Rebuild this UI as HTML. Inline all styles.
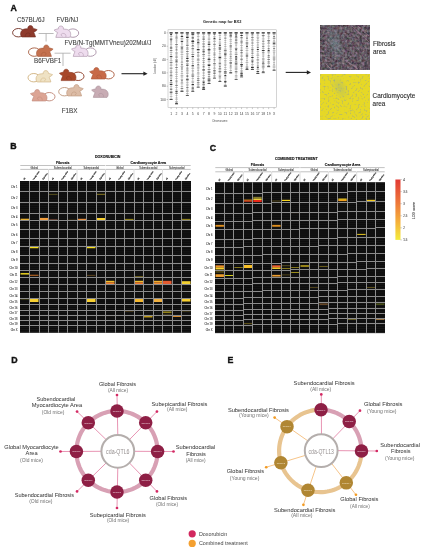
<!DOCTYPE html><html><head><meta charset="utf-8"><style>html,body{margin:0;padding:0;background:#fff;overflow:hidden;}svg{display:block;will-change:transform;}text{font-family:"Liberation Sans",sans-serif;}</style></head><body>
<svg width="427" height="550" viewBox="0 0 427 550">
<defs>
<filter id="fibf" filterUnits="userSpaceOnUse" x="320.9" y="25.3" width="48.2" height="44.2" color-interpolation-filters="sRGB"><feTurbulence type="fractalNoise" baseFrequency="0.4" numOctaves="2" seed="3" result="n"/><feColorMatrix in="n" type="matrix" values="0.5 0.15 0 0 0.065  0.5 -0.1 0 0 0.145  0.5 0 0.15 0 0.06  0 0 0 0 1"/><feGaussianBlur stdDeviation="0.35"/></filter>
<filter id="cardf" filterUnits="userSpaceOnUse" x="320.9" y="74.9" width="48.2" height="44.6" color-interpolation-filters="sRGB"><feFlood flood-color="#e6d826" result="base"/><feTurbulence type="fractalNoise" baseFrequency="0.5" numOctaves="2" seed="9" result="n"/><feColorMatrix in="n" type="matrix" values="0 0 0 0 0.58  0 0 0 0 0.64  0 0 0 0 0.6  2.4 0 0 0 -1.28" result="spk"/><feMerge result="m"><feMergeNode in="base"/><feMergeNode in="spk"/></feMerge><feGaussianBlur in="m" stdDeviation="0.35"/></filter>
<radialGradient id="tealg1" gradientUnits="userSpaceOnUse" cx="0" cy="0" r="1" gradientTransform="translate(335,44) rotate(75) scale(20,9)"><stop offset="0" stop-color="#80a4aa" stop-opacity="0.4"/><stop offset="1" stop-color="#80a4aa" stop-opacity="0"/></radialGradient>
<radialGradient id="tealg2" gradientUnits="userSpaceOnUse" cx="0" cy="0" r="1" gradientTransform="translate(340,88) rotate(60) scale(14,8)"><stop offset="0" stop-color="#88a8a0" stop-opacity="0.35"/><stop offset="1" stop-color="#88a8a0" stop-opacity="0"/></radialGradient>
<linearGradient id="lodg" x1="0" y1="1" x2="0" y2="0"><stop offset="0" stop-color="#f4ec3c"/><stop offset="0.3" stop-color="#f5b03a"/><stop offset="0.6" stop-color="#ee7a3a"/><stop offset="1" stop-color="#e23a34"/></linearGradient>
</defs>
<rect width="427" height="550" fill="#fff"/>
<text x="10.50" y="10.50" font-size="8.8" fill="#111" text-anchor="start" font-weight="bold"  stroke="#111" stroke-width="0.35">A</text>
<text x="10.30" y="149.40" font-size="8.8" fill="#111" text-anchor="start" font-weight="bold"  stroke="#111" stroke-width="0.35">B</text>
<text x="209.70" y="151.30" font-size="8.8" fill="#111" text-anchor="start" font-weight="bold"  stroke="#111" stroke-width="0.35">C</text>
<text x="11.20" y="362.60" font-size="8.8" fill="#111" text-anchor="start" font-weight="bold"  stroke="#111" stroke-width="0.35">D</text>
<text x="227.40" y="362.70" font-size="8.8" fill="#111" text-anchor="start" font-weight="bold"  stroke="#111" stroke-width="0.35">E</text>
<text x="16.90" y="22.40" font-size="6.3" fill="#444" text-anchor="start" font-weight="normal"  stroke="#444" stroke-width="0.1">C57BL/6J</text>
<text x="56.40" y="22.40" font-size="6.3" fill="#444" text-anchor="start" font-weight="normal"  stroke="#444" stroke-width="0.1">FVB/NJ</text>
<text x="64.50" y="44.60" font-size="6.3" fill="#444" text-anchor="start" font-weight="normal"  stroke="#444" stroke-width="0.1">FVB/N-Tg(MMTVneu)202Mul/J</text>
<text x="34.00" y="62.90" font-size="6.3" fill="#444" text-anchor="start" font-weight="normal"  stroke="#444" stroke-width="0.1">B6FVBF1</text>
<text x="61.70" y="112.70" font-size="6.3" fill="#444" text-anchor="start" font-weight="normal"  stroke="#444" stroke-width="0.1">F1BX</text>
<path d="M38.6,33.5 H53.6 M46.1,33.5 V41.5" stroke="#aaa" stroke-width="0.8" fill="none"/>
<path d="M54.6,53.2 H70.6 M63,53.2 V66" stroke="#aaa" stroke-width="0.8" fill="none"/>
<g transform="translate(12.20,25.40) scale(1.0)">
<ellipse cx="6.2" cy="7.3" rx="5.8" ry="4.2" fill="none" stroke="#6e2c20" stroke-width="0.9"/>
<path d="M9.6,11.6 C7.6,9.8 7.9,4.6 12.2,3.6 C13.6,3.3 14.8,3.4 15.7,3.3 C15.3,1.5 16.6,0.1 18.3,0.2 C20,0.3 21,1.6 20.7,3.0 C22.2,3.3 23.8,3.6 25,4.3 C24,5.4 22.8,6.2 21.5,6.8 C22.1,8.2 23,9.8 23.3,11.6 Z" fill="#8e3a2c" stroke="#6e2c20" stroke-width="0.6" stroke-linejoin="round"/>
<path d="M13.2,11.3 C12.6,8.9 14.4,7.2 16.6,7.6 C18.4,8 18.5,10 16.6,10.5" fill="none" stroke="#6e2c20" stroke-width="0.6" opacity="0.8"/>
</g>
<g transform="translate(79.10,25.80) scale(-1.0,1.0)">
<ellipse cx="6.2" cy="7.3" rx="5.8" ry="4.2" fill="none" stroke="#a890a6" stroke-width="0.9"/>
<path d="M9.6,11.6 C7.6,9.8 7.9,4.6 12.2,3.6 C13.6,3.3 14.8,3.4 15.7,3.3 C15.3,1.5 16.6,0.1 18.3,0.2 C20,0.3 21,1.6 20.7,3.0 C22.2,3.3 23.8,3.6 25,4.3 C24,5.4 22.8,6.2 21.5,6.8 C22.1,8.2 23,9.8 23.3,11.6 Z" fill="#eedcee" stroke="#a890a6" stroke-width="0.6" stroke-linejoin="round"/>
<path d="M13.2,11.3 C12.6,8.9 14.4,7.2 16.6,7.6 C18.4,8 18.5,10 16.6,10.5" fill="none" stroke="#a890a6" stroke-width="0.6" opacity="0.8"/>
</g>
<g transform="translate(28.10,44.80) scale(1.0)">
<ellipse cx="6.2" cy="7.3" rx="5.8" ry="4.2" fill="none" stroke="#a45a3c" stroke-width="0.9"/>
<path d="M9.6,11.6 C7.6,9.8 7.9,4.6 12.2,3.6 C13.6,3.3 14.8,3.4 15.7,3.3 C15.3,1.5 16.6,0.1 18.3,0.2 C20,0.3 21,1.6 20.7,3.0 C22.2,3.3 23.8,3.6 25,4.3 C24,5.4 22.8,6.2 21.5,6.8 C22.1,8.2 23,9.8 23.3,11.6 Z" fill="#c4714f" stroke="#a45a3c" stroke-width="0.6" stroke-linejoin="round"/>
<path d="M13.2,11.3 C12.6,8.9 14.4,7.2 16.6,7.6 C18.4,8 18.5,10 16.6,10.5" fill="none" stroke="#a45a3c" stroke-width="0.6" opacity="0.8"/>
</g>
<g transform="translate(96.50,44.80) scale(-1.0,1.0)">
<ellipse cx="6.2" cy="7.3" rx="5.8" ry="4.2" fill="none" stroke="#a890a6" stroke-width="0.9"/>
<path d="M9.6,11.6 C7.6,9.8 7.9,4.6 12.2,3.6 C13.6,3.3 14.8,3.4 15.7,3.3 C15.3,1.5 16.6,0.1 18.3,0.2 C20,0.3 21,1.6 20.7,3.0 C22.2,3.3 23.8,3.6 25,4.3 C24,5.4 22.8,6.2 21.5,6.8 C22.1,8.2 23,9.8 23.3,11.6 Z" fill="#eedcee" stroke="#a890a6" stroke-width="0.6" stroke-linejoin="round"/>
<path d="M13.2,11.3 C12.6,8.9 14.4,7.2 16.6,7.6 C18.4,8 18.5,10 16.6,10.5" fill="none" stroke="#a890a6" stroke-width="0.6" opacity="0.8"/>
</g>
<g transform="translate(27.60,70.40) scale(1.0)">
<ellipse cx="6.2" cy="7.3" rx="5.8" ry="4.2" fill="none" stroke="#cfb07c" stroke-width="0.9"/>
<path d="M9.6,11.6 C7.6,9.8 7.9,4.6 12.2,3.6 C13.6,3.3 14.8,3.4 15.7,3.3 C15.3,1.5 16.6,0.1 18.3,0.2 C20,0.3 21,1.6 20.7,3.0 C22.2,3.3 23.8,3.6 25,4.3 C24,5.4 22.8,6.2 21.5,6.8 C22.1,8.2 23,9.8 23.3,11.6 Z" fill="#efe2c4" stroke="#cfb07c" stroke-width="0.6" stroke-linejoin="round"/>
<path d="M13.2,11.3 C12.6,8.9 14.4,7.2 16.6,7.6 C18.4,8 18.5,10 16.6,10.5" fill="none" stroke="#cfb07c" stroke-width="0.6" opacity="0.8"/>
</g>
<g transform="translate(84.40,69.00) scale(-1.0,1.0)">
<ellipse cx="6.2" cy="7.3" rx="5.8" ry="4.2" fill="none" stroke="#8a3820" stroke-width="0.9"/>
<path d="M9.6,11.6 C7.6,9.8 7.9,4.6 12.2,3.6 C13.6,3.3 14.8,3.4 15.7,3.3 C15.3,1.5 16.6,0.1 18.3,0.2 C20,0.3 21,1.6 20.7,3.0 C22.2,3.3 23.8,3.6 25,4.3 C24,5.4 22.8,6.2 21.5,6.8 C22.1,8.2 23,9.8 23.3,11.6 Z" fill="#a8482a" stroke="#8a3820" stroke-width="0.6" stroke-linejoin="round"/>
<path d="M13.2,11.3 C12.6,8.9 14.4,7.2 16.6,7.6 C18.4,8 18.5,10 16.6,10.5" fill="none" stroke="#8a3820" stroke-width="0.6" opacity="0.8"/>
</g>
<g transform="translate(114.60,67.40) scale(-1.0,1.0)">
<ellipse cx="6.2" cy="7.3" rx="5.8" ry="4.2" fill="none" stroke="#a85638" stroke-width="0.9"/>
<path d="M9.6,11.6 C7.6,9.8 7.9,4.6 12.2,3.6 C13.6,3.3 14.8,3.4 15.7,3.3 C15.3,1.5 16.6,0.1 18.3,0.2 C20,0.3 21,1.6 20.7,3.0 C22.2,3.3 23.8,3.6 25,4.3 C24,5.4 22.8,6.2 21.5,6.8 C22.1,8.2 23,9.8 23.3,11.6 Z" fill="#c86a48" stroke="#a85638" stroke-width="0.6" stroke-linejoin="round"/>
<path d="M13.2,11.3 C12.6,8.9 14.4,7.2 16.6,7.6 C18.4,8 18.5,10 16.6,10.5" fill="none" stroke="#a85638" stroke-width="0.6" opacity="0.8"/>
</g>
<g transform="translate(55.40,89.40) scale(-1.0,1.0)">
<ellipse cx="6.2" cy="7.3" rx="5.8" ry="4.2" fill="none" stroke="#c08878" stroke-width="0.9"/>
<path d="M9.6,11.6 C7.6,9.8 7.9,4.6 12.2,3.6 C13.6,3.3 14.8,3.4 15.7,3.3 C15.3,1.5 16.6,0.1 18.3,0.2 C20,0.3 21,1.6 20.7,3.0 C22.2,3.3 23.8,3.6 25,4.3 C24,5.4 22.8,6.2 21.5,6.8 C22.1,8.2 23,9.8 23.3,11.6 Z" fill="#dca494" stroke="#c08878" stroke-width="0.6" stroke-linejoin="round"/>
<path d="M13.2,11.3 C12.6,8.9 14.4,7.2 16.6,7.6 C18.4,8 18.5,10 16.6,10.5" fill="none" stroke="#c08878" stroke-width="0.6" opacity="0.8"/>
</g>
<g transform="translate(58.30,84.40) scale(1.0)">
<ellipse cx="6.2" cy="7.3" rx="5.8" ry="4.2" fill="none" stroke="#bc9478" stroke-width="0.9"/>
<path d="M9.6,11.6 C7.6,9.8 7.9,4.6 12.2,3.6 C13.6,3.3 14.8,3.4 15.7,3.3 C15.3,1.5 16.6,0.1 18.3,0.2 C20,0.3 21,1.6 20.7,3.0 C22.2,3.3 23.8,3.6 25,4.3 C24,5.4 22.8,6.2 21.5,6.8 C22.1,8.2 23,9.8 23.3,11.6 Z" fill="#dcbca6" stroke="#bc9478" stroke-width="0.6" stroke-linejoin="round"/>
<path d="M13.2,11.3 C12.6,8.9 14.4,7.2 16.6,7.6 C18.4,8 18.5,10 16.6,10.5" fill="none" stroke="#bc9478" stroke-width="0.6" opacity="0.8"/>
</g>
<g transform="translate(116.60,85.80) scale(-1.0,1.0)">
<path d="M9.6,11.6 C7.6,9.8 7.9,4.6 12.2,3.6 C13.6,3.3 14.8,3.4 15.7,3.3 C15.3,1.5 16.6,0.1 18.3,0.2 C20,0.3 21,1.6 20.7,3.0 C22.2,3.3 23.8,3.6 25,4.3 C24,5.4 22.8,6.2 21.5,6.8 C22.1,8.2 23,9.8 23.3,11.6 Z" fill="#c8acb4" stroke="#a88e98" stroke-width="0.6" stroke-linejoin="round"/>
<path d="M13.2,11.3 C12.6,8.9 14.4,7.2 16.6,7.6 C18.4,8 18.5,10 16.6,10.5" fill="none" stroke="#a88e98" stroke-width="0.6" opacity="0.8"/>
</g>
<path d="M121.5,73.7 H144.2" stroke="#222" stroke-width="1.1"/>
<path d="M143.4,71.6 L147.6,73.7 L143.4,75.8 Z" fill="#222"/>
<path d="M285.7,72.4 H307.6" stroke="#222" stroke-width="1.1"/>
<path d="M306.8,70.3 L311,72.4 L306.8,74.5 Z" fill="#222"/>
<rect x="168.0" y="29.8" width="108.39999999999998" height="77.8" fill="none" stroke="#aaa" stroke-width="0.5"/>
<text x="222.20" y="23.40" font-size="3.9" fill="#222" text-anchor="middle" font-weight="bold" >Genetic map for BX2</text>
<path d="M166.6,32.90 H168.0" stroke="#777" stroke-width="0.4"/>
<text x="165.80" y="34.10" font-size="3.4" fill="#444" text-anchor="end" font-weight="normal" >0</text>
<path d="M166.6,46.22 H168.0" stroke="#777" stroke-width="0.4"/>
<text x="165.80" y="47.42" font-size="3.4" fill="#444" text-anchor="end" font-weight="normal" >20</text>
<path d="M166.6,59.54 H168.0" stroke="#777" stroke-width="0.4"/>
<text x="165.80" y="60.74" font-size="3.4" fill="#444" text-anchor="end" font-weight="normal" >40</text>
<path d="M166.6,72.86 H168.0" stroke="#777" stroke-width="0.4"/>
<text x="165.80" y="74.06" font-size="3.4" fill="#444" text-anchor="end" font-weight="normal" >60</text>
<path d="M166.6,86.18 H168.0" stroke="#777" stroke-width="0.4"/>
<text x="165.80" y="87.38" font-size="3.4" fill="#444" text-anchor="end" font-weight="normal" >80</text>
<path d="M166.6,99.50 H168.0" stroke="#777" stroke-width="0.4"/>
<text x="165.80" y="100.70" font-size="3.4" fill="#444" text-anchor="end" font-weight="normal" >100</text>
<text x="0.00" y="0.00" font-size="2.6" fill="#555" text-anchor="middle" font-weight="normal" transform="translate(156.2,66) rotate(-90)">Location (cM)</text>
<path d="M171.10,107.6 v1.5" stroke="#777" stroke-width="0.4"/>
<text x="171.10" y="115.00" font-size="3.4" fill="#444" text-anchor="middle" font-weight="normal" >1</text>
<path d="M171.10,32.90 V99.50" stroke="#666" stroke-width="0.35"/>
<rect x="169.80" y="32.57" width="2.6" height="0.65" fill="#a0a0a0"/>
<rect x="170.10" y="34.19" width="2.0" height="0.9" fill="#222"/>
<rect x="169.80" y="36.27" width="2.6" height="0.65" fill="#a0a0a0"/>
<rect x="169.90" y="38.67" width="2.4" height="0.9" fill="#222"/>
<rect x="170.10" y="40.54" width="2.0" height="0.75" fill="#666"/>
<rect x="170.10" y="42.56" width="2.0" height="0.65" fill="#a0a0a0"/>
<rect x="169.90" y="43.89" width="2.4" height="0.65" fill="#a0a0a0"/>
<rect x="170.10" y="45.91" width="2.0" height="0.65" fill="#a0a0a0"/>
<rect x="169.90" y="47.53" width="2.4" height="0.9" fill="#222"/>
<rect x="169.80" y="50.05" width="2.6" height="0.75" fill="#666"/>
<rect x="169.80" y="52.06" width="2.6" height="0.65" fill="#a0a0a0"/>
<rect x="170.10" y="54.23" width="2.0" height="0.65" fill="#a0a0a0"/>
<rect x="169.80" y="56.22" width="2.6" height="0.9" fill="#222"/>
<rect x="170.10" y="58.57" width="2.0" height="0.65" fill="#a0a0a0"/>
<rect x="169.70" y="60.46" width="2.8" height="0.65" fill="#a0a0a0"/>
<rect x="169.70" y="62.26" width="2.8" height="0.75" fill="#666"/>
<rect x="169.90" y="63.82" width="2.4" height="0.65" fill="#a0a0a0"/>
<rect x="169.80" y="65.33" width="2.6" height="0.65" fill="#a0a0a0"/>
<rect x="169.70" y="67.75" width="2.8" height="0.75" fill="#666"/>
<rect x="170.10" y="70.43" width="2.0" height="0.65" fill="#a0a0a0"/>
<rect x="169.80" y="71.77" width="2.6" height="0.75" fill="#666"/>
<rect x="170.10" y="73.70" width="2.0" height="0.65" fill="#a0a0a0"/>
<rect x="169.80" y="74.90" width="2.6" height="0.75" fill="#666"/>
<rect x="169.70" y="76.62" width="2.8" height="0.65" fill="#a0a0a0"/>
<rect x="170.10" y="78.45" width="2.0" height="0.65" fill="#a0a0a0"/>
<rect x="170.10" y="80.18" width="2.0" height="0.9" fill="#222"/>
<rect x="169.70" y="82.46" width="2.8" height="0.75" fill="#666"/>
<rect x="169.80" y="84.11" width="2.6" height="0.9" fill="#222"/>
<rect x="169.90" y="86.08" width="2.4" height="0.65" fill="#a0a0a0"/>
<rect x="169.90" y="87.97" width="2.4" height="0.65" fill="#a0a0a0"/>
<rect x="169.90" y="89.25" width="2.4" height="0.75" fill="#666"/>
<rect x="169.70" y="91.71" width="2.8" height="0.9" fill="#222"/>
<rect x="169.80" y="93.65" width="2.6" height="0.65" fill="#a0a0a0"/>
<rect x="169.80" y="96.04" width="2.6" height="0.65" fill="#a0a0a0"/>
<rect x="169.70" y="98.68" width="2.8" height="0.65" fill="#a0a0a0"/>
<rect x="169.60" y="99.10" width="3" height="0.8" fill="#333"/>
<rect x="169.50" y="32.40" width="3.2" height="1" fill="#111"/>
<path d="M176.52,107.6 v1.5" stroke="#777" stroke-width="0.4"/>
<text x="176.52" y="115.00" font-size="3.4" fill="#444" text-anchor="middle" font-weight="normal" >2</text>
<path d="M176.52,32.90 V103.90" stroke="#666" stroke-width="0.35"/>
<rect x="175.32" y="32.52" width="2.4" height="0.75" fill="#666"/>
<rect x="175.52" y="34.72" width="2.0" height="0.65" fill="#a0a0a0"/>
<rect x="175.22" y="36.70" width="2.6" height="0.75" fill="#666"/>
<rect x="175.22" y="38.11" width="2.6" height="0.65" fill="#a0a0a0"/>
<rect x="175.32" y="39.73" width="2.4" height="0.65" fill="#a0a0a0"/>
<rect x="175.52" y="41.65" width="2.0" height="0.65" fill="#a0a0a0"/>
<rect x="175.12" y="44.06" width="2.8" height="0.75" fill="#666"/>
<rect x="175.12" y="45.85" width="2.8" height="0.65" fill="#a0a0a0"/>
<rect x="175.52" y="47.08" width="2.0" height="0.65" fill="#a0a0a0"/>
<rect x="175.52" y="48.83" width="2.0" height="0.75" fill="#666"/>
<rect x="175.52" y="50.10" width="2.0" height="0.65" fill="#a0a0a0"/>
<rect x="175.22" y="52.05" width="2.6" height="0.65" fill="#a0a0a0"/>
<rect x="175.32" y="53.29" width="2.4" height="0.65" fill="#a0a0a0"/>
<rect x="175.22" y="54.65" width="2.6" height="0.65" fill="#a0a0a0"/>
<rect x="175.12" y="56.66" width="2.8" height="0.75" fill="#666"/>
<rect x="175.12" y="59.14" width="2.8" height="0.65" fill="#a0a0a0"/>
<rect x="175.32" y="60.62" width="2.4" height="0.9" fill="#222"/>
<rect x="175.22" y="62.41" width="2.6" height="0.65" fill="#a0a0a0"/>
<rect x="175.52" y="64.55" width="2.0" height="0.75" fill="#666"/>
<rect x="175.22" y="67.14" width="2.6" height="0.75" fill="#666"/>
<rect x="175.52" y="69.15" width="2.0" height="0.65" fill="#a0a0a0"/>
<rect x="175.52" y="70.74" width="2.0" height="0.65" fill="#a0a0a0"/>
<rect x="175.22" y="72.27" width="2.6" height="0.65" fill="#a0a0a0"/>
<rect x="175.32" y="73.95" width="2.4" height="0.65" fill="#a0a0a0"/>
<rect x="175.22" y="76.28" width="2.6" height="0.65" fill="#a0a0a0"/>
<rect x="175.32" y="78.35" width="2.4" height="0.65" fill="#a0a0a0"/>
<rect x="175.32" y="80.68" width="2.4" height="0.75" fill="#666"/>
<rect x="175.52" y="82.62" width="2.0" height="0.65" fill="#a0a0a0"/>
<rect x="175.12" y="84.91" width="2.8" height="0.75" fill="#666"/>
<rect x="175.22" y="87.16" width="2.6" height="0.65" fill="#a0a0a0"/>
<rect x="175.22" y="89.72" width="2.6" height="0.65" fill="#a0a0a0"/>
<rect x="175.32" y="91.29" width="2.4" height="0.9" fill="#222"/>
<rect x="175.22" y="93.22" width="2.6" height="0.75" fill="#666"/>
<rect x="175.52" y="95.35" width="2.0" height="0.65" fill="#a0a0a0"/>
<rect x="175.52" y="97.49" width="2.0" height="0.65" fill="#a0a0a0"/>
<rect x="175.12" y="98.80" width="2.8" height="0.65" fill="#a0a0a0"/>
<rect x="175.12" y="101.08" width="2.8" height="0.65" fill="#a0a0a0"/>
<rect x="175.22" y="102.76" width="2.6" height="0.9" fill="#222"/>
<rect x="175.02" y="103.50" width="3" height="0.8" fill="#333"/>
<rect x="174.92" y="32.40" width="3.2" height="1" fill="#111"/>
<path d="M181.94,107.6 v1.5" stroke="#777" stroke-width="0.4"/>
<text x="181.94" y="115.00" font-size="3.4" fill="#444" text-anchor="middle" font-weight="normal" >3</text>
<path d="M181.94,32.90 V91.31" stroke="#666" stroke-width="0.35"/>
<rect x="180.54" y="32.57" width="2.8" height="0.65" fill="#a0a0a0"/>
<rect x="180.94" y="34.85" width="2.0" height="0.65" fill="#a0a0a0"/>
<rect x="180.74" y="36.11" width="2.4" height="0.9" fill="#222"/>
<rect x="180.54" y="38.28" width="2.8" height="0.65" fill="#a0a0a0"/>
<rect x="180.54" y="39.63" width="2.8" height="0.65" fill="#a0a0a0"/>
<rect x="180.74" y="41.18" width="2.4" height="0.9" fill="#222"/>
<rect x="180.94" y="43.66" width="2.0" height="0.65" fill="#a0a0a0"/>
<rect x="180.54" y="46.22" width="2.8" height="0.65" fill="#a0a0a0"/>
<rect x="180.74" y="47.53" width="2.4" height="0.9" fill="#222"/>
<rect x="180.74" y="49.11" width="2.4" height="0.65" fill="#a0a0a0"/>
<rect x="180.54" y="50.74" width="2.8" height="0.65" fill="#a0a0a0"/>
<rect x="180.64" y="51.97" width="2.6" height="0.65" fill="#a0a0a0"/>
<rect x="180.54" y="54.11" width="2.8" height="0.65" fill="#a0a0a0"/>
<rect x="180.74" y="56.59" width="2.4" height="0.65" fill="#a0a0a0"/>
<rect x="180.94" y="58.52" width="2.0" height="0.65" fill="#a0a0a0"/>
<rect x="180.94" y="60.85" width="2.0" height="0.65" fill="#a0a0a0"/>
<rect x="180.74" y="62.21" width="2.4" height="0.65" fill="#a0a0a0"/>
<rect x="180.94" y="64.40" width="2.0" height="0.75" fill="#666"/>
<rect x="180.54" y="66.38" width="2.8" height="0.65" fill="#a0a0a0"/>
<rect x="180.94" y="67.62" width="2.0" height="0.75" fill="#666"/>
<rect x="180.94" y="69.23" width="2.0" height="0.65" fill="#a0a0a0"/>
<rect x="180.94" y="71.22" width="2.0" height="0.65" fill="#a0a0a0"/>
<rect x="180.74" y="73.29" width="2.4" height="0.65" fill="#a0a0a0"/>
<rect x="180.54" y="75.12" width="2.8" height="0.65" fill="#a0a0a0"/>
<rect x="180.64" y="76.63" width="2.6" height="0.65" fill="#a0a0a0"/>
<rect x="180.74" y="79.13" width="2.4" height="0.65" fill="#a0a0a0"/>
<rect x="180.94" y="80.42" width="2.0" height="0.75" fill="#666"/>
<rect x="180.74" y="82.09" width="2.4" height="0.65" fill="#a0a0a0"/>
<rect x="180.64" y="83.54" width="2.6" height="0.65" fill="#a0a0a0"/>
<rect x="180.74" y="86.05" width="2.4" height="0.65" fill="#a0a0a0"/>
<rect x="180.64" y="88.12" width="2.6" height="0.75" fill="#666"/>
<rect x="180.54" y="90.60" width="2.8" height="0.75" fill="#666"/>
<rect x="180.44" y="90.91" width="3" height="0.8" fill="#333"/>
<rect x="180.34" y="32.40" width="3.2" height="1" fill="#111"/>
<path d="M187.36,107.6 v1.5" stroke="#777" stroke-width="0.4"/>
<text x="187.36" y="115.00" font-size="3.4" fill="#444" text-anchor="middle" font-weight="normal" >4</text>
<path d="M187.36,32.90 V95.37" stroke="#666" stroke-width="0.35"/>
<rect x="185.96" y="32.57" width="2.8" height="0.65" fill="#a0a0a0"/>
<rect x="186.16" y="33.91" width="2.4" height="0.75" fill="#666"/>
<rect x="185.96" y="35.70" width="2.8" height="0.75" fill="#666"/>
<rect x="186.06" y="37.06" width="2.6" height="0.9" fill="#222"/>
<rect x="186.06" y="38.87" width="2.6" height="0.65" fill="#a0a0a0"/>
<rect x="186.36" y="40.63" width="2.0" height="0.75" fill="#666"/>
<rect x="186.06" y="42.61" width="2.6" height="0.65" fill="#a0a0a0"/>
<rect x="186.16" y="43.84" width="2.4" height="0.65" fill="#a0a0a0"/>
<rect x="186.06" y="45.08" width="2.6" height="0.75" fill="#666"/>
<rect x="186.16" y="47.60" width="2.4" height="0.75" fill="#666"/>
<rect x="185.96" y="48.98" width="2.8" height="0.65" fill="#a0a0a0"/>
<rect x="186.06" y="51.10" width="2.6" height="0.75" fill="#666"/>
<rect x="185.96" y="53.10" width="2.8" height="0.65" fill="#a0a0a0"/>
<rect x="186.36" y="54.37" width="2.0" height="0.65" fill="#a0a0a0"/>
<rect x="186.36" y="55.73" width="2.0" height="0.75" fill="#666"/>
<rect x="186.36" y="56.94" width="2.0" height="0.65" fill="#a0a0a0"/>
<rect x="186.16" y="58.08" width="2.4" height="0.9" fill="#222"/>
<rect x="185.96" y="60.53" width="2.8" height="0.9" fill="#222"/>
<rect x="185.96" y="63.31" width="2.8" height="0.65" fill="#a0a0a0"/>
<rect x="186.16" y="64.73" width="2.4" height="0.9" fill="#222"/>
<rect x="186.36" y="67.07" width="2.0" height="0.65" fill="#a0a0a0"/>
<rect x="186.16" y="68.56" width="2.4" height="0.75" fill="#666"/>
<rect x="186.06" y="70.22" width="2.6" height="0.65" fill="#a0a0a0"/>
<rect x="185.96" y="71.66" width="2.8" height="0.65" fill="#a0a0a0"/>
<rect x="186.06" y="73.07" width="2.6" height="0.65" fill="#a0a0a0"/>
<rect x="186.36" y="75.60" width="2.0" height="0.9" fill="#222"/>
<rect x="186.16" y="77.98" width="2.4" height="0.65" fill="#a0a0a0"/>
<rect x="185.96" y="79.36" width="2.8" height="0.9" fill="#222"/>
<rect x="185.96" y="81.87" width="2.8" height="0.65" fill="#a0a0a0"/>
<rect x="185.96" y="83.84" width="2.8" height="0.65" fill="#a0a0a0"/>
<rect x="186.16" y="85.45" width="2.4" height="0.65" fill="#a0a0a0"/>
<rect x="186.16" y="87.05" width="2.4" height="0.75" fill="#666"/>
<rect x="186.36" y="88.77" width="2.0" height="0.65" fill="#a0a0a0"/>
<rect x="186.06" y="89.92" width="2.6" height="0.65" fill="#a0a0a0"/>
<rect x="185.96" y="91.14" width="2.8" height="0.65" fill="#a0a0a0"/>
<rect x="186.06" y="93.30" width="2.6" height="0.65" fill="#a0a0a0"/>
<rect x="185.86" y="94.97" width="3" height="0.8" fill="#333"/>
<rect x="185.76" y="32.40" width="3.2" height="1" fill="#111"/>
<path d="M192.78,107.6 v1.5" stroke="#777" stroke-width="0.4"/>
<text x="192.78" y="115.00" font-size="3.4" fill="#444" text-anchor="middle" font-weight="normal" >5</text>
<path d="M192.78,32.90 V91.31" stroke="#666" stroke-width="0.35"/>
<rect x="191.78" y="32.57" width="2.0" height="0.65" fill="#a0a0a0"/>
<rect x="191.38" y="33.82" width="2.8" height="0.9" fill="#222"/>
<rect x="191.48" y="35.64" width="2.6" height="0.65" fill="#a0a0a0"/>
<rect x="191.58" y="37.48" width="2.4" height="0.9" fill="#222"/>
<rect x="191.58" y="40.04" width="2.4" height="0.75" fill="#666"/>
<rect x="191.38" y="41.10" width="2.8" height="0.9" fill="#222"/>
<rect x="191.58" y="42.74" width="2.4" height="0.75" fill="#666"/>
<rect x="191.78" y="45.06" width="2.0" height="0.75" fill="#666"/>
<rect x="191.38" y="46.38" width="2.8" height="0.65" fill="#a0a0a0"/>
<rect x="191.48" y="48.06" width="2.6" height="0.75" fill="#666"/>
<rect x="191.58" y="49.60" width="2.4" height="0.65" fill="#a0a0a0"/>
<rect x="191.38" y="51.83" width="2.8" height="0.65" fill="#a0a0a0"/>
<rect x="191.38" y="54.02" width="2.8" height="0.75" fill="#666"/>
<rect x="191.58" y="56.18" width="2.4" height="0.9" fill="#222"/>
<rect x="191.38" y="58.72" width="2.8" height="0.65" fill="#a0a0a0"/>
<rect x="191.58" y="61.10" width="2.4" height="0.65" fill="#a0a0a0"/>
<rect x="191.78" y="63.38" width="2.0" height="0.65" fill="#a0a0a0"/>
<rect x="191.58" y="65.28" width="2.4" height="0.9" fill="#222"/>
<rect x="191.48" y="66.60" width="2.6" height="0.65" fill="#a0a0a0"/>
<rect x="191.38" y="68.31" width="2.8" height="0.65" fill="#a0a0a0"/>
<rect x="191.58" y="70.41" width="2.4" height="0.65" fill="#a0a0a0"/>
<rect x="191.78" y="71.54" width="2.0" height="0.65" fill="#a0a0a0"/>
<rect x="191.78" y="73.45" width="2.0" height="0.65" fill="#a0a0a0"/>
<rect x="191.38" y="74.63" width="2.8" height="0.75" fill="#666"/>
<rect x="191.48" y="75.88" width="2.6" height="0.75" fill="#666"/>
<rect x="191.58" y="78.22" width="2.4" height="0.65" fill="#a0a0a0"/>
<rect x="191.38" y="80.84" width="2.8" height="0.65" fill="#a0a0a0"/>
<rect x="191.48" y="82.09" width="2.6" height="0.65" fill="#a0a0a0"/>
<rect x="191.58" y="84.05" width="2.4" height="0.9" fill="#222"/>
<rect x="191.48" y="85.53" width="2.6" height="0.65" fill="#a0a0a0"/>
<rect x="191.58" y="87.60" width="2.4" height="0.9" fill="#222"/>
<rect x="191.48" y="88.95" width="2.6" height="0.65" fill="#a0a0a0"/>
<rect x="191.58" y="90.23" width="2.4" height="0.65" fill="#a0a0a0"/>
<rect x="191.28" y="90.91" width="3" height="0.8" fill="#333"/>
<rect x="191.18" y="32.40" width="3.2" height="1" fill="#111"/>
<path d="M198.20,107.6 v1.5" stroke="#777" stroke-width="0.4"/>
<text x="198.20" y="115.00" font-size="3.4" fill="#444" text-anchor="middle" font-weight="normal" >6</text>
<path d="M198.20,32.90 V87.18" stroke="#666" stroke-width="0.35"/>
<rect x="196.90" y="32.57" width="2.6" height="0.65" fill="#a0a0a0"/>
<rect x="197.20" y="34.42" width="2.0" height="0.65" fill="#a0a0a0"/>
<rect x="196.90" y="36.39" width="2.6" height="0.65" fill="#a0a0a0"/>
<rect x="197.20" y="38.91" width="2.0" height="0.75" fill="#666"/>
<rect x="196.80" y="40.21" width="2.8" height="0.65" fill="#a0a0a0"/>
<rect x="197.00" y="41.81" width="2.4" height="0.9" fill="#222"/>
<rect x="196.90" y="43.21" width="2.6" height="0.65" fill="#a0a0a0"/>
<rect x="196.90" y="44.54" width="2.6" height="0.65" fill="#a0a0a0"/>
<rect x="197.00" y="46.75" width="2.4" height="0.65" fill="#a0a0a0"/>
<rect x="196.80" y="49.10" width="2.8" height="0.9" fill="#222"/>
<rect x="196.80" y="50.36" width="2.8" height="0.65" fill="#a0a0a0"/>
<rect x="197.00" y="52.07" width="2.4" height="0.75" fill="#666"/>
<rect x="197.20" y="53.82" width="2.0" height="0.65" fill="#a0a0a0"/>
<rect x="196.90" y="54.96" width="2.6" height="0.65" fill="#a0a0a0"/>
<rect x="197.00" y="56.28" width="2.4" height="0.65" fill="#a0a0a0"/>
<rect x="196.90" y="58.74" width="2.6" height="0.75" fill="#666"/>
<rect x="196.80" y="60.02" width="2.8" height="0.65" fill="#a0a0a0"/>
<rect x="196.90" y="62.05" width="2.6" height="0.65" fill="#a0a0a0"/>
<rect x="197.20" y="64.29" width="2.0" height="0.75" fill="#666"/>
<rect x="196.90" y="65.56" width="2.6" height="0.65" fill="#a0a0a0"/>
<rect x="196.90" y="66.92" width="2.6" height="0.65" fill="#a0a0a0"/>
<rect x="196.90" y="68.53" width="2.6" height="0.65" fill="#a0a0a0"/>
<rect x="197.20" y="70.32" width="2.0" height="0.65" fill="#a0a0a0"/>
<rect x="197.00" y="72.42" width="2.4" height="0.65" fill="#a0a0a0"/>
<rect x="196.80" y="73.63" width="2.8" height="0.65" fill="#a0a0a0"/>
<rect x="196.90" y="75.91" width="2.6" height="0.65" fill="#a0a0a0"/>
<rect x="197.00" y="78.39" width="2.4" height="0.75" fill="#666"/>
<rect x="196.90" y="80.16" width="2.6" height="0.75" fill="#666"/>
<rect x="196.90" y="82.42" width="2.6" height="0.75" fill="#666"/>
<rect x="196.80" y="83.97" width="2.8" height="0.65" fill="#a0a0a0"/>
<rect x="197.00" y="85.71" width="2.4" height="0.65" fill="#a0a0a0"/>
<rect x="196.70" y="86.78" width="3" height="0.8" fill="#333"/>
<rect x="196.60" y="32.40" width="3.2" height="1" fill="#111"/>
<path d="M203.62,107.6 v1.5" stroke="#777" stroke-width="0.4"/>
<text x="203.62" y="115.00" font-size="3.4" fill="#444" text-anchor="middle" font-weight="normal" >7</text>
<path d="M203.62,32.90 V89.18" stroke="#666" stroke-width="0.35"/>
<rect x="202.22" y="32.57" width="2.8" height="0.65" fill="#a0a0a0"/>
<rect x="202.32" y="34.40" width="2.6" height="0.65" fill="#a0a0a0"/>
<rect x="202.42" y="36.22" width="2.4" height="0.65" fill="#a0a0a0"/>
<rect x="202.42" y="37.68" width="2.4" height="0.75" fill="#666"/>
<rect x="202.42" y="38.95" width="2.4" height="0.75" fill="#666"/>
<rect x="202.42" y="41.37" width="2.4" height="0.65" fill="#a0a0a0"/>
<rect x="202.22" y="43.60" width="2.8" height="0.75" fill="#666"/>
<rect x="202.42" y="45.88" width="2.4" height="0.75" fill="#666"/>
<rect x="202.62" y="47.58" width="2.0" height="0.65" fill="#a0a0a0"/>
<rect x="202.32" y="49.54" width="2.6" height="0.75" fill="#666"/>
<rect x="202.42" y="51.37" width="2.4" height="0.9" fill="#222"/>
<rect x="202.22" y="53.95" width="2.8" height="0.75" fill="#666"/>
<rect x="202.32" y="55.81" width="2.6" height="0.65" fill="#a0a0a0"/>
<rect x="202.62" y="58.23" width="2.0" height="0.75" fill="#666"/>
<rect x="202.22" y="60.07" width="2.8" height="0.65" fill="#a0a0a0"/>
<rect x="202.62" y="61.90" width="2.0" height="0.75" fill="#666"/>
<rect x="202.22" y="64.50" width="2.8" height="0.65" fill="#a0a0a0"/>
<rect x="202.62" y="65.96" width="2.0" height="0.75" fill="#666"/>
<rect x="202.62" y="67.38" width="2.0" height="0.65" fill="#a0a0a0"/>
<rect x="202.22" y="69.49" width="2.8" height="0.9" fill="#222"/>
<rect x="202.62" y="71.94" width="2.0" height="0.65" fill="#a0a0a0"/>
<rect x="202.62" y="73.43" width="2.0" height="0.65" fill="#a0a0a0"/>
<rect x="202.42" y="75.03" width="2.4" height="0.65" fill="#a0a0a0"/>
<rect x="202.22" y="76.97" width="2.8" height="0.65" fill="#a0a0a0"/>
<rect x="202.62" y="78.22" width="2.0" height="0.75" fill="#666"/>
<rect x="202.42" y="80.80" width="2.4" height="0.75" fill="#666"/>
<rect x="202.62" y="82.20" width="2.0" height="0.9" fill="#222"/>
<rect x="202.22" y="83.87" width="2.8" height="0.75" fill="#666"/>
<rect x="202.42" y="85.53" width="2.4" height="0.65" fill="#a0a0a0"/>
<rect x="202.42" y="86.90" width="2.4" height="0.9" fill="#222"/>
<rect x="202.32" y="88.66" width="2.6" height="0.9" fill="#222"/>
<rect x="202.12" y="88.78" width="3" height="0.8" fill="#333"/>
<rect x="202.02" y="32.40" width="3.2" height="1" fill="#111"/>
<path d="M209.04,107.6 v1.5" stroke="#777" stroke-width="0.4"/>
<text x="209.04" y="115.00" font-size="3.4" fill="#444" text-anchor="middle" font-weight="normal" >8</text>
<path d="M209.04,32.90 V83.52" stroke="#666" stroke-width="0.35"/>
<rect x="207.64" y="32.45" width="2.8" height="0.9" fill="#222"/>
<rect x="207.64" y="34.06" width="2.8" height="0.65" fill="#a0a0a0"/>
<rect x="208.04" y="35.54" width="2.0" height="0.65" fill="#a0a0a0"/>
<rect x="207.74" y="37.77" width="2.6" height="0.65" fill="#a0a0a0"/>
<rect x="207.74" y="39.20" width="2.6" height="0.65" fill="#a0a0a0"/>
<rect x="207.84" y="41.11" width="2.4" height="0.65" fill="#a0a0a0"/>
<rect x="207.84" y="42.50" width="2.4" height="0.75" fill="#666"/>
<rect x="207.74" y="43.90" width="2.6" height="0.9" fill="#222"/>
<rect x="207.84" y="46.11" width="2.4" height="0.65" fill="#a0a0a0"/>
<rect x="208.04" y="47.98" width="2.0" height="0.65" fill="#a0a0a0"/>
<rect x="207.64" y="49.21" width="2.8" height="0.9" fill="#222"/>
<rect x="207.84" y="50.46" width="2.4" height="0.75" fill="#666"/>
<rect x="207.84" y="52.68" width="2.4" height="0.75" fill="#666"/>
<rect x="207.74" y="55.24" width="2.6" height="0.65" fill="#a0a0a0"/>
<rect x="207.84" y="57.85" width="2.4" height="0.75" fill="#666"/>
<rect x="207.64" y="59.19" width="2.8" height="0.9" fill="#222"/>
<rect x="207.64" y="61.46" width="2.8" height="0.65" fill="#a0a0a0"/>
<rect x="207.64" y="64.05" width="2.8" height="0.75" fill="#666"/>
<rect x="207.74" y="65.11" width="2.6" height="0.9" fill="#222"/>
<rect x="208.04" y="67.02" width="2.0" height="0.65" fill="#a0a0a0"/>
<rect x="207.64" y="69.26" width="2.8" height="0.75" fill="#666"/>
<rect x="207.64" y="71.58" width="2.8" height="0.9" fill="#222"/>
<rect x="207.84" y="73.86" width="2.4" height="0.75" fill="#666"/>
<rect x="207.84" y="76.40" width="2.4" height="0.75" fill="#666"/>
<rect x="207.64" y="78.59" width="2.8" height="0.9" fill="#222"/>
<rect x="207.64" y="80.35" width="2.8" height="0.9" fill="#222"/>
<rect x="208.04" y="81.66" width="2.0" height="0.65" fill="#a0a0a0"/>
<rect x="207.84" y="82.89" width="2.4" height="0.65" fill="#a0a0a0"/>
<rect x="207.54" y="83.12" width="3" height="0.8" fill="#333"/>
<rect x="207.44" y="32.40" width="3.2" height="1" fill="#111"/>
<path d="M214.46,107.6 v1.5" stroke="#777" stroke-width="0.4"/>
<text x="214.46" y="115.00" font-size="3.4" fill="#444" text-anchor="middle" font-weight="normal" >9</text>
<path d="M214.46,32.90 V78.12" stroke="#666" stroke-width="0.35"/>
<rect x="213.16" y="32.52" width="2.6" height="0.75" fill="#666"/>
<rect x="213.46" y="34.17" width="2.0" height="0.75" fill="#666"/>
<rect x="213.16" y="36.45" width="2.6" height="0.65" fill="#a0a0a0"/>
<rect x="213.46" y="37.91" width="2.0" height="0.9" fill="#222"/>
<rect x="213.06" y="39.53" width="2.8" height="0.65" fill="#a0a0a0"/>
<rect x="213.06" y="41.37" width="2.8" height="0.65" fill="#a0a0a0"/>
<rect x="213.06" y="43.86" width="2.8" height="0.75" fill="#666"/>
<rect x="213.46" y="45.80" width="2.0" height="0.65" fill="#a0a0a0"/>
<rect x="213.26" y="48.06" width="2.4" height="0.65" fill="#a0a0a0"/>
<rect x="213.16" y="49.70" width="2.6" height="0.65" fill="#a0a0a0"/>
<rect x="213.46" y="52.03" width="2.0" height="0.65" fill="#a0a0a0"/>
<rect x="213.26" y="53.71" width="2.4" height="0.75" fill="#666"/>
<rect x="213.46" y="54.99" width="2.0" height="0.65" fill="#a0a0a0"/>
<rect x="213.26" y="56.96" width="2.4" height="0.65" fill="#a0a0a0"/>
<rect x="213.46" y="59.39" width="2.0" height="0.75" fill="#666"/>
<rect x="213.46" y="60.71" width="2.0" height="0.65" fill="#a0a0a0"/>
<rect x="213.06" y="63.30" width="2.8" height="0.75" fill="#666"/>
<rect x="213.06" y="64.69" width="2.8" height="0.65" fill="#a0a0a0"/>
<rect x="213.46" y="66.85" width="2.0" height="0.65" fill="#a0a0a0"/>
<rect x="213.16" y="68.43" width="2.6" height="0.65" fill="#a0a0a0"/>
<rect x="213.16" y="70.09" width="2.6" height="0.75" fill="#666"/>
<rect x="213.26" y="71.60" width="2.4" height="0.75" fill="#666"/>
<rect x="213.26" y="73.16" width="2.4" height="0.75" fill="#666"/>
<rect x="213.26" y="74.95" width="2.4" height="0.65" fill="#a0a0a0"/>
<rect x="213.46" y="76.44" width="2.0" height="0.65" fill="#a0a0a0"/>
<rect x="212.96" y="77.72" width="3" height="0.8" fill="#333"/>
<rect x="212.86" y="32.40" width="3.2" height="1" fill="#111"/>
<path d="M219.88,107.6 v1.5" stroke="#777" stroke-width="0.4"/>
<text x="219.88" y="115.00" font-size="3.4" fill="#444" text-anchor="middle" font-weight="normal" >10</text>
<path d="M219.88,32.90 V81.45" stroke="#666" stroke-width="0.35"/>
<rect x="218.88" y="32.45" width="2.0" height="0.9" fill="#222"/>
<rect x="218.68" y="35.06" width="2.4" height="0.65" fill="#a0a0a0"/>
<rect x="218.88" y="37.59" width="2.0" height="0.65" fill="#a0a0a0"/>
<rect x="218.88" y="39.03" width="2.0" height="0.75" fill="#666"/>
<rect x="218.68" y="41.70" width="2.4" height="0.65" fill="#a0a0a0"/>
<rect x="218.68" y="43.41" width="2.4" height="0.65" fill="#a0a0a0"/>
<rect x="218.88" y="44.81" width="2.0" height="0.9" fill="#222"/>
<rect x="218.58" y="46.93" width="2.6" height="0.75" fill="#666"/>
<rect x="218.68" y="48.55" width="2.4" height="0.9" fill="#222"/>
<rect x="218.88" y="51.34" width="2.0" height="0.65" fill="#a0a0a0"/>
<rect x="218.68" y="53.47" width="2.4" height="0.65" fill="#a0a0a0"/>
<rect x="218.48" y="55.86" width="2.8" height="0.65" fill="#a0a0a0"/>
<rect x="218.58" y="57.15" width="2.6" height="0.9" fill="#222"/>
<rect x="218.48" y="58.46" width="2.8" height="0.65" fill="#a0a0a0"/>
<rect x="218.88" y="59.69" width="2.0" height="0.65" fill="#a0a0a0"/>
<rect x="218.68" y="61.83" width="2.4" height="0.65" fill="#a0a0a0"/>
<rect x="218.68" y="63.06" width="2.4" height="0.75" fill="#666"/>
<rect x="218.58" y="64.65" width="2.6" height="0.65" fill="#a0a0a0"/>
<rect x="218.88" y="66.38" width="2.0" height="0.75" fill="#666"/>
<rect x="218.58" y="68.38" width="2.6" height="0.75" fill="#666"/>
<rect x="218.58" y="69.59" width="2.6" height="0.65" fill="#a0a0a0"/>
<rect x="218.48" y="71.27" width="2.8" height="0.75" fill="#666"/>
<rect x="218.68" y="72.46" width="2.4" height="0.65" fill="#a0a0a0"/>
<rect x="218.48" y="74.85" width="2.8" height="0.65" fill="#a0a0a0"/>
<rect x="218.68" y="76.49" width="2.4" height="0.75" fill="#666"/>
<rect x="218.68" y="77.75" width="2.4" height="0.65" fill="#a0a0a0"/>
<rect x="218.88" y="80.28" width="2.0" height="0.65" fill="#a0a0a0"/>
<rect x="218.38" y="81.05" width="3" height="0.8" fill="#333"/>
<rect x="218.28" y="32.40" width="3.2" height="1" fill="#111"/>
<path d="M225.30,107.6 v1.5" stroke="#777" stroke-width="0.4"/>
<text x="225.30" y="115.00" font-size="3.4" fill="#444" text-anchor="middle" font-weight="normal" >11</text>
<path d="M225.30,32.90 V86.18" stroke="#666" stroke-width="0.35"/>
<rect x="224.10" y="32.52" width="2.4" height="0.75" fill="#666"/>
<rect x="224.10" y="34.14" width="2.4" height="0.65" fill="#a0a0a0"/>
<rect x="223.90" y="35.44" width="2.8" height="0.65" fill="#a0a0a0"/>
<rect x="224.10" y="37.74" width="2.4" height="0.75" fill="#666"/>
<rect x="224.30" y="40.20" width="2.0" height="0.65" fill="#a0a0a0"/>
<rect x="224.30" y="42.07" width="2.0" height="0.65" fill="#a0a0a0"/>
<rect x="224.30" y="44.18" width="2.0" height="0.65" fill="#a0a0a0"/>
<rect x="224.10" y="46.26" width="2.4" height="0.65" fill="#a0a0a0"/>
<rect x="223.90" y="48.71" width="2.8" height="0.65" fill="#a0a0a0"/>
<rect x="223.90" y="50.09" width="2.8" height="0.75" fill="#666"/>
<rect x="223.90" y="51.60" width="2.8" height="0.65" fill="#a0a0a0"/>
<rect x="224.00" y="52.93" width="2.6" height="0.75" fill="#666"/>
<rect x="224.10" y="54.36" width="2.4" height="0.9" fill="#222"/>
<rect x="224.30" y="56.48" width="2.0" height="0.65" fill="#a0a0a0"/>
<rect x="223.90" y="58.11" width="2.8" height="0.65" fill="#a0a0a0"/>
<rect x="224.00" y="60.08" width="2.6" height="0.65" fill="#a0a0a0"/>
<rect x="224.10" y="61.69" width="2.4" height="0.65" fill="#a0a0a0"/>
<rect x="223.90" y="63.83" width="2.8" height="0.65" fill="#a0a0a0"/>
<rect x="224.30" y="65.24" width="2.0" height="0.65" fill="#a0a0a0"/>
<rect x="224.10" y="67.12" width="2.4" height="0.65" fill="#a0a0a0"/>
<rect x="223.90" y="69.20" width="2.8" height="0.65" fill="#a0a0a0"/>
<rect x="223.90" y="71.45" width="2.8" height="0.9" fill="#222"/>
<rect x="223.90" y="72.85" width="2.8" height="0.75" fill="#666"/>
<rect x="224.30" y="75.14" width="2.0" height="0.9" fill="#222"/>
<rect x="224.00" y="76.59" width="2.6" height="0.65" fill="#a0a0a0"/>
<rect x="224.30" y="78.51" width="2.0" height="0.65" fill="#a0a0a0"/>
<rect x="224.10" y="80.89" width="2.4" height="0.9" fill="#222"/>
<rect x="224.30" y="82.20" width="2.0" height="0.75" fill="#666"/>
<rect x="223.90" y="84.83" width="2.8" height="0.75" fill="#666"/>
<rect x="223.80" y="85.78" width="3" height="0.8" fill="#333"/>
<rect x="223.70" y="32.40" width="3.2" height="1" fill="#111"/>
<path d="M230.72,107.6 v1.5" stroke="#777" stroke-width="0.4"/>
<text x="230.72" y="115.00" font-size="3.4" fill="#444" text-anchor="middle" font-weight="normal" >12</text>
<path d="M230.72,32.90 V72.86" stroke="#666" stroke-width="0.35"/>
<rect x="229.52" y="32.57" width="2.4" height="0.65" fill="#a0a0a0"/>
<rect x="229.52" y="34.69" width="2.4" height="0.9" fill="#222"/>
<rect x="229.42" y="36.43" width="2.6" height="0.75" fill="#666"/>
<rect x="229.42" y="38.99" width="2.6" height="0.65" fill="#a0a0a0"/>
<rect x="229.42" y="40.82" width="2.6" height="0.65" fill="#a0a0a0"/>
<rect x="229.52" y="43.36" width="2.4" height="0.65" fill="#a0a0a0"/>
<rect x="229.52" y="45.39" width="2.4" height="0.75" fill="#666"/>
<rect x="229.52" y="46.57" width="2.4" height="0.75" fill="#666"/>
<rect x="229.42" y="48.73" width="2.6" height="0.65" fill="#a0a0a0"/>
<rect x="229.52" y="51.23" width="2.4" height="0.65" fill="#a0a0a0"/>
<rect x="229.72" y="52.77" width="2.0" height="0.65" fill="#a0a0a0"/>
<rect x="229.32" y="54.46" width="2.8" height="0.65" fill="#a0a0a0"/>
<rect x="229.72" y="56.43" width="2.0" height="0.75" fill="#666"/>
<rect x="229.32" y="58.43" width="2.8" height="0.65" fill="#a0a0a0"/>
<rect x="229.32" y="60.13" width="2.8" height="0.65" fill="#a0a0a0"/>
<rect x="229.42" y="62.10" width="2.6" height="0.75" fill="#666"/>
<rect x="229.52" y="63.35" width="2.4" height="0.75" fill="#666"/>
<rect x="229.72" y="65.62" width="2.0" height="0.75" fill="#666"/>
<rect x="229.42" y="67.60" width="2.6" height="0.65" fill="#a0a0a0"/>
<rect x="229.42" y="70.24" width="2.6" height="0.65" fill="#a0a0a0"/>
<rect x="229.52" y="72.46" width="2.4" height="0.75" fill="#666"/>
<rect x="229.22" y="72.46" width="3" height="0.8" fill="#333"/>
<rect x="229.12" y="32.40" width="3.2" height="1" fill="#111"/>
<path d="M236.14,107.6 v1.5" stroke="#777" stroke-width="0.4"/>
<text x="236.14" y="115.00" font-size="3.4" fill="#444" text-anchor="middle" font-weight="normal" >13</text>
<path d="M236.14,32.90 V79.32" stroke="#666" stroke-width="0.35"/>
<rect x="234.74" y="32.52" width="2.8" height="0.75" fill="#666"/>
<rect x="235.14" y="34.21" width="2.0" height="0.75" fill="#666"/>
<rect x="235.14" y="35.62" width="2.0" height="0.9" fill="#222"/>
<rect x="234.84" y="36.83" width="2.6" height="0.75" fill="#666"/>
<rect x="234.94" y="38.76" width="2.4" height="0.75" fill="#666"/>
<rect x="234.94" y="40.36" width="2.4" height="0.75" fill="#666"/>
<rect x="234.74" y="42.45" width="2.8" height="0.75" fill="#666"/>
<rect x="234.94" y="43.65" width="2.4" height="0.65" fill="#a0a0a0"/>
<rect x="235.14" y="45.47" width="2.0" height="0.65" fill="#a0a0a0"/>
<rect x="234.84" y="47.89" width="2.6" height="0.75" fill="#666"/>
<rect x="235.14" y="49.35" width="2.0" height="0.9" fill="#222"/>
<rect x="234.84" y="51.87" width="2.6" height="0.65" fill="#a0a0a0"/>
<rect x="234.74" y="53.83" width="2.8" height="0.75" fill="#666"/>
<rect x="235.14" y="56.28" width="2.0" height="0.9" fill="#222"/>
<rect x="234.94" y="57.52" width="2.4" height="0.75" fill="#666"/>
<rect x="235.14" y="58.67" width="2.0" height="0.9" fill="#222"/>
<rect x="234.94" y="60.72" width="2.4" height="0.75" fill="#666"/>
<rect x="234.74" y="62.21" width="2.8" height="0.65" fill="#a0a0a0"/>
<rect x="234.84" y="63.48" width="2.6" height="0.9" fill="#222"/>
<rect x="234.74" y="65.70" width="2.8" height="0.65" fill="#a0a0a0"/>
<rect x="234.74" y="66.84" width="2.8" height="0.65" fill="#a0a0a0"/>
<rect x="234.74" y="68.63" width="2.8" height="0.75" fill="#666"/>
<rect x="234.84" y="71.29" width="2.6" height="0.75" fill="#666"/>
<rect x="234.84" y="72.54" width="2.6" height="0.65" fill="#a0a0a0"/>
<rect x="234.84" y="75.08" width="2.6" height="0.65" fill="#a0a0a0"/>
<rect x="234.74" y="76.62" width="2.8" height="0.65" fill="#a0a0a0"/>
<rect x="234.64" y="78.92" width="3" height="0.8" fill="#333"/>
<rect x="234.54" y="32.40" width="3.2" height="1" fill="#111"/>
<path d="M241.56,107.6 v1.5" stroke="#777" stroke-width="0.4"/>
<text x="241.56" y="115.00" font-size="3.4" fill="#444" text-anchor="middle" font-weight="normal" >14</text>
<path d="M241.56,32.90 V76.92" stroke="#666" stroke-width="0.35"/>
<rect x="240.26" y="32.52" width="2.6" height="0.75" fill="#666"/>
<rect x="240.36" y="35.00" width="2.4" height="0.9" fill="#222"/>
<rect x="240.36" y="36.99" width="2.4" height="0.75" fill="#666"/>
<rect x="240.36" y="38.53" width="2.4" height="0.65" fill="#a0a0a0"/>
<rect x="240.26" y="40.76" width="2.6" height="0.75" fill="#666"/>
<rect x="240.36" y="42.49" width="2.4" height="0.75" fill="#666"/>
<rect x="240.16" y="44.97" width="2.8" height="0.65" fill="#a0a0a0"/>
<rect x="240.56" y="46.92" width="2.0" height="0.65" fill="#a0a0a0"/>
<rect x="240.36" y="48.72" width="2.4" height="0.65" fill="#a0a0a0"/>
<rect x="240.36" y="50.27" width="2.4" height="0.75" fill="#666"/>
<rect x="240.36" y="52.30" width="2.4" height="0.75" fill="#666"/>
<rect x="240.56" y="53.53" width="2.0" height="0.65" fill="#a0a0a0"/>
<rect x="240.36" y="54.91" width="2.4" height="0.65" fill="#a0a0a0"/>
<rect x="240.36" y="56.09" width="2.4" height="0.65" fill="#a0a0a0"/>
<rect x="240.56" y="58.19" width="2.0" height="0.65" fill="#a0a0a0"/>
<rect x="240.26" y="59.37" width="2.6" height="0.75" fill="#666"/>
<rect x="240.56" y="62.02" width="2.0" height="0.65" fill="#a0a0a0"/>
<rect x="240.16" y="64.18" width="2.8" height="0.9" fill="#222"/>
<rect x="240.56" y="65.63" width="2.0" height="0.9" fill="#222"/>
<rect x="240.56" y="68.34" width="2.0" height="0.65" fill="#a0a0a0"/>
<rect x="240.26" y="70.44" width="2.6" height="0.65" fill="#a0a0a0"/>
<rect x="240.36" y="71.72" width="2.4" height="0.75" fill="#666"/>
<rect x="240.26" y="73.30" width="2.6" height="0.9" fill="#222"/>
<rect x="240.26" y="74.82" width="2.6" height="0.9" fill="#222"/>
<rect x="240.06" y="76.52" width="3" height="0.8" fill="#333"/>
<rect x="239.96" y="32.40" width="3.2" height="1" fill="#111"/>
<path d="M246.98,107.6 v1.5" stroke="#777" stroke-width="0.4"/>
<text x="246.98" y="115.00" font-size="3.4" fill="#444" text-anchor="middle" font-weight="normal" >15</text>
<path d="M246.98,32.90 V69.53" stroke="#666" stroke-width="0.35"/>
<rect x="245.68" y="32.57" width="2.6" height="0.65" fill="#a0a0a0"/>
<rect x="245.58" y="34.63" width="2.8" height="0.65" fill="#a0a0a0"/>
<rect x="245.98" y="36.71" width="2.0" height="0.65" fill="#a0a0a0"/>
<rect x="245.98" y="37.84" width="2.0" height="0.75" fill="#666"/>
<rect x="245.78" y="40.10" width="2.4" height="0.65" fill="#a0a0a0"/>
<rect x="245.68" y="42.45" width="2.6" height="0.75" fill="#666"/>
<rect x="245.78" y="43.58" width="2.4" height="0.75" fill="#666"/>
<rect x="245.98" y="45.79" width="2.0" height="0.9" fill="#222"/>
<rect x="245.58" y="47.80" width="2.8" height="0.65" fill="#a0a0a0"/>
<rect x="245.58" y="50.20" width="2.8" height="0.65" fill="#a0a0a0"/>
<rect x="245.68" y="52.80" width="2.6" height="0.65" fill="#a0a0a0"/>
<rect x="245.78" y="54.17" width="2.4" height="0.65" fill="#a0a0a0"/>
<rect x="245.78" y="55.53" width="2.4" height="0.9" fill="#222"/>
<rect x="245.98" y="57.77" width="2.0" height="0.65" fill="#a0a0a0"/>
<rect x="245.98" y="60.42" width="2.0" height="0.65" fill="#a0a0a0"/>
<rect x="245.58" y="62.09" width="2.8" height="0.65" fill="#a0a0a0"/>
<rect x="245.98" y="64.59" width="2.0" height="0.65" fill="#a0a0a0"/>
<rect x="245.68" y="66.66" width="2.6" height="0.75" fill="#666"/>
<rect x="245.78" y="68.20" width="2.4" height="0.75" fill="#666"/>
<rect x="245.48" y="69.13" width="3" height="0.8" fill="#333"/>
<rect x="245.38" y="32.40" width="3.2" height="1" fill="#111"/>
<path d="M252.40,107.6 v1.5" stroke="#777" stroke-width="0.4"/>
<text x="252.40" y="115.00" font-size="3.4" fill="#444" text-anchor="middle" font-weight="normal" >16</text>
<path d="M252.40,32.90 V69.53" stroke="#666" stroke-width="0.35"/>
<rect x="251.20" y="32.57" width="2.4" height="0.65" fill="#a0a0a0"/>
<rect x="251.40" y="33.85" width="2.0" height="0.75" fill="#666"/>
<rect x="251.20" y="35.53" width="2.4" height="0.65" fill="#a0a0a0"/>
<rect x="251.10" y="37.31" width="2.6" height="0.75" fill="#666"/>
<rect x="251.10" y="39.16" width="2.6" height="0.65" fill="#a0a0a0"/>
<rect x="251.00" y="40.49" width="2.8" height="0.65" fill="#a0a0a0"/>
<rect x="251.20" y="42.63" width="2.4" height="0.75" fill="#666"/>
<rect x="251.20" y="44.97" width="2.4" height="0.65" fill="#a0a0a0"/>
<rect x="251.10" y="47.60" width="2.6" height="0.65" fill="#a0a0a0"/>
<rect x="251.20" y="49.21" width="2.4" height="0.75" fill="#666"/>
<rect x="251.40" y="50.64" width="2.0" height="0.75" fill="#666"/>
<rect x="251.20" y="52.78" width="2.4" height="0.75" fill="#666"/>
<rect x="251.10" y="55.47" width="2.6" height="0.65" fill="#a0a0a0"/>
<rect x="251.20" y="57.14" width="2.4" height="0.9" fill="#222"/>
<rect x="251.10" y="59.74" width="2.6" height="0.75" fill="#666"/>
<rect x="251.40" y="61.39" width="2.0" height="0.9" fill="#222"/>
<rect x="251.00" y="63.96" width="2.8" height="0.65" fill="#a0a0a0"/>
<rect x="251.10" y="65.86" width="2.6" height="0.65" fill="#a0a0a0"/>
<rect x="251.00" y="67.08" width="2.8" height="0.9" fill="#222"/>
<rect x="251.00" y="68.71" width="2.8" height="0.65" fill="#a0a0a0"/>
<rect x="250.90" y="69.13" width="3" height="0.8" fill="#333"/>
<rect x="250.80" y="32.40" width="3.2" height="1" fill="#111"/>
<path d="M257.82,107.6 v1.5" stroke="#777" stroke-width="0.4"/>
<text x="257.82" y="115.00" font-size="3.4" fill="#444" text-anchor="middle" font-weight="normal" >17</text>
<path d="M257.82,32.90 V73.53" stroke="#666" stroke-width="0.35"/>
<rect x="256.42" y="32.57" width="2.8" height="0.65" fill="#a0a0a0"/>
<rect x="256.62" y="34.73" width="2.4" height="0.65" fill="#a0a0a0"/>
<rect x="256.42" y="36.85" width="2.8" height="0.65" fill="#a0a0a0"/>
<rect x="256.82" y="38.38" width="2.0" height="0.65" fill="#a0a0a0"/>
<rect x="256.42" y="39.88" width="2.8" height="0.65" fill="#a0a0a0"/>
<rect x="256.52" y="41.98" width="2.6" height="0.65" fill="#a0a0a0"/>
<rect x="256.82" y="43.85" width="2.0" height="0.65" fill="#a0a0a0"/>
<rect x="256.62" y="45.61" width="2.4" height="0.65" fill="#a0a0a0"/>
<rect x="256.82" y="47.19" width="2.0" height="0.75" fill="#666"/>
<rect x="256.82" y="49.00" width="2.0" height="0.9" fill="#222"/>
<rect x="256.62" y="51.09" width="2.4" height="0.65" fill="#a0a0a0"/>
<rect x="256.62" y="53.68" width="2.4" height="0.65" fill="#a0a0a0"/>
<rect x="256.42" y="54.96" width="2.8" height="0.65" fill="#a0a0a0"/>
<rect x="256.82" y="57.20" width="2.0" height="0.65" fill="#a0a0a0"/>
<rect x="256.52" y="59.55" width="2.6" height="0.75" fill="#666"/>
<rect x="256.62" y="62.18" width="2.4" height="0.65" fill="#a0a0a0"/>
<rect x="256.82" y="63.60" width="2.0" height="0.65" fill="#a0a0a0"/>
<rect x="256.82" y="65.62" width="2.0" height="0.75" fill="#666"/>
<rect x="256.82" y="67.26" width="2.0" height="0.9" fill="#222"/>
<rect x="256.42" y="69.16" width="2.8" height="0.65" fill="#a0a0a0"/>
<rect x="256.52" y="71.20" width="2.6" height="0.9" fill="#222"/>
<rect x="256.42" y="72.92" width="2.8" height="0.65" fill="#a0a0a0"/>
<rect x="256.32" y="73.13" width="3" height="0.8" fill="#333"/>
<rect x="256.22" y="32.40" width="3.2" height="1" fill="#111"/>
<path d="M263.24,107.6 v1.5" stroke="#777" stroke-width="0.4"/>
<text x="263.24" y="115.00" font-size="3.4" fill="#444" text-anchor="middle" font-weight="normal" >18</text>
<path d="M263.24,32.90 V72.73" stroke="#666" stroke-width="0.35"/>
<rect x="262.04" y="32.57" width="2.4" height="0.65" fill="#a0a0a0"/>
<rect x="261.84" y="35.13" width="2.8" height="0.75" fill="#666"/>
<rect x="262.24" y="36.51" width="2.0" height="0.65" fill="#a0a0a0"/>
<rect x="261.84" y="38.61" width="2.8" height="0.65" fill="#a0a0a0"/>
<rect x="262.04" y="40.80" width="2.4" height="0.75" fill="#666"/>
<rect x="261.84" y="42.96" width="2.8" height="0.65" fill="#a0a0a0"/>
<rect x="262.04" y="44.54" width="2.4" height="0.65" fill="#a0a0a0"/>
<rect x="262.04" y="46.34" width="2.4" height="0.75" fill="#666"/>
<rect x="261.94" y="48.10" width="2.6" height="0.65" fill="#a0a0a0"/>
<rect x="261.84" y="50.15" width="2.8" height="0.9" fill="#222"/>
<rect x="261.94" y="52.46" width="2.6" height="0.75" fill="#666"/>
<rect x="261.94" y="54.65" width="2.6" height="0.65" fill="#a0a0a0"/>
<rect x="262.24" y="56.44" width="2.0" height="0.65" fill="#a0a0a0"/>
<rect x="261.94" y="58.12" width="2.6" height="0.65" fill="#a0a0a0"/>
<rect x="261.94" y="59.34" width="2.6" height="0.65" fill="#a0a0a0"/>
<rect x="261.94" y="60.69" width="2.6" height="0.65" fill="#a0a0a0"/>
<rect x="262.24" y="61.80" width="2.0" height="0.75" fill="#666"/>
<rect x="261.94" y="63.04" width="2.6" height="0.75" fill="#666"/>
<rect x="262.04" y="64.38" width="2.4" height="0.65" fill="#a0a0a0"/>
<rect x="261.84" y="65.74" width="2.8" height="0.75" fill="#666"/>
<rect x="261.84" y="67.16" width="2.8" height="0.65" fill="#a0a0a0"/>
<rect x="262.24" y="68.55" width="2.0" height="0.65" fill="#a0a0a0"/>
<rect x="261.94" y="71.00" width="2.6" height="0.75" fill="#666"/>
<rect x="261.74" y="72.33" width="3" height="0.8" fill="#333"/>
<rect x="261.64" y="32.40" width="3.2" height="1" fill="#111"/>
<path d="M268.66,107.6 v1.5" stroke="#777" stroke-width="0.4"/>
<text x="268.66" y="115.00" font-size="3.4" fill="#444" text-anchor="middle" font-weight="normal" >19</text>
<path d="M268.66,32.90 V66.73" stroke="#666" stroke-width="0.35"/>
<rect x="267.66" y="32.57" width="2.0" height="0.65" fill="#a0a0a0"/>
<rect x="267.66" y="34.38" width="2.0" height="0.65" fill="#a0a0a0"/>
<rect x="267.46" y="35.92" width="2.4" height="0.65" fill="#a0a0a0"/>
<rect x="267.66" y="37.77" width="2.0" height="0.65" fill="#a0a0a0"/>
<rect x="267.26" y="40.24" width="2.8" height="0.75" fill="#666"/>
<rect x="267.66" y="41.63" width="2.0" height="0.75" fill="#666"/>
<rect x="267.26" y="43.30" width="2.8" height="0.65" fill="#a0a0a0"/>
<rect x="267.36" y="45.72" width="2.6" height="0.65" fill="#a0a0a0"/>
<rect x="267.66" y="48.33" width="2.0" height="0.75" fill="#666"/>
<rect x="267.66" y="49.94" width="2.0" height="0.9" fill="#222"/>
<rect x="267.36" y="51.27" width="2.6" height="0.65" fill="#a0a0a0"/>
<rect x="267.26" y="52.55" width="2.8" height="0.65" fill="#a0a0a0"/>
<rect x="267.66" y="55.00" width="2.0" height="0.75" fill="#666"/>
<rect x="267.46" y="56.77" width="2.4" height="0.75" fill="#666"/>
<rect x="267.36" y="59.23" width="2.6" height="0.75" fill="#666"/>
<rect x="267.46" y="61.55" width="2.4" height="0.75" fill="#666"/>
<rect x="267.36" y="63.26" width="2.6" height="0.65" fill="#a0a0a0"/>
<rect x="267.36" y="65.60" width="2.6" height="0.75" fill="#666"/>
<rect x="267.16" y="66.33" width="3" height="0.8" fill="#333"/>
<rect x="267.06" y="32.40" width="3.2" height="1" fill="#111"/>
<path d="M274.08,107.6 v1.5" stroke="#777" stroke-width="0.4"/>
<text x="274.08" y="115.00" font-size="3.4" fill="#444" text-anchor="middle" font-weight="normal" >X</text>
<path d="M274.08,32.90 V70.20" stroke="#666" stroke-width="0.35"/>
<rect x="272.78" y="32.57" width="2.6" height="0.65" fill="#a0a0a0"/>
<rect x="272.78" y="34.12" width="2.6" height="0.65" fill="#a0a0a0"/>
<rect x="273.08" y="36.21" width="2.0" height="0.75" fill="#666"/>
<rect x="272.78" y="37.83" width="2.6" height="0.75" fill="#666"/>
<rect x="273.08" y="40.50" width="2.0" height="0.65" fill="#a0a0a0"/>
<rect x="272.68" y="41.69" width="2.8" height="0.65" fill="#a0a0a0"/>
<rect x="272.78" y="42.78" width="2.6" height="0.9" fill="#222"/>
<rect x="272.68" y="44.10" width="2.8" height="0.65" fill="#a0a0a0"/>
<rect x="272.68" y="46.24" width="2.8" height="0.65" fill="#a0a0a0"/>
<rect x="273.08" y="48.29" width="2.0" height="0.75" fill="#666"/>
<rect x="272.68" y="50.49" width="2.8" height="0.65" fill="#a0a0a0"/>
<rect x="272.88" y="51.89" width="2.4" height="0.65" fill="#a0a0a0"/>
<rect x="273.08" y="53.67" width="2.0" height="0.65" fill="#a0a0a0"/>
<rect x="272.78" y="55.80" width="2.6" height="0.65" fill="#a0a0a0"/>
<rect x="272.78" y="57.15" width="2.6" height="0.65" fill="#a0a0a0"/>
<rect x="272.78" y="58.63" width="2.6" height="0.75" fill="#666"/>
<rect x="273.08" y="59.86" width="2.0" height="0.65" fill="#a0a0a0"/>
<rect x="273.08" y="61.98" width="2.0" height="0.65" fill="#a0a0a0"/>
<rect x="273.08" y="63.91" width="2.0" height="0.65" fill="#a0a0a0"/>
<rect x="272.68" y="65.68" width="2.8" height="0.65" fill="#a0a0a0"/>
<rect x="272.68" y="66.84" width="2.8" height="0.65" fill="#a0a0a0"/>
<rect x="272.88" y="69.49" width="2.4" height="0.65" fill="#a0a0a0"/>
<rect x="272.58" y="69.80" width="3" height="0.8" fill="#333"/>
<rect x="272.48" y="32.40" width="3.2" height="1" fill="#111"/>
<text x="219.70" y="122.20" font-size="2.6" fill="#555" text-anchor="middle" font-weight="normal" >Chromosome</text>
<rect x="320.9" y="25.3" width="48.2" height="44.2" fill="#6e6270" filter="url(#fibf)"/>
<rect x="320.9" y="25.3" width="48.2" height="44.2" fill="url(#tealg1)"/>
<path d="M352,26 L369,42 M358,26 L369,36 M345,60 L358,69 M326,64 L331,69" stroke="#c898b8" stroke-width="0.6" opacity="0.7"/>
<rect x="320.9" y="74.9" width="48.2" height="44.6" fill="#e2d234" filter="url(#cardf)"/>
<rect x="320.9" y="74.9" width="48.2" height="44.6" fill="url(#tealg2)"/>
<text x="373.00" y="46.30" font-size="6.4" fill="#2a2a2a" text-anchor="start" font-weight="normal"  stroke="#2a2a2a" stroke-width="0.1">Fibrosis</text>
<text x="373.00" y="53.80" font-size="6.4" fill="#2a2a2a" text-anchor="start" font-weight="normal"  stroke="#2a2a2a" stroke-width="0.1">area</text>
<text x="372.60" y="98.10" font-size="6.4" fill="#2a2a2a" text-anchor="start" font-weight="normal"  stroke="#2a2a2a" stroke-width="0.1">Cardiomyocyte</text>
<text x="372.60" y="105.50" font-size="6.4" fill="#2a2a2a" text-anchor="start" font-weight="normal"  stroke="#2a2a2a" stroke-width="0.1">area</text>
<text x="94.90" y="157.80" font-size="3.9" fill="#111" text-anchor="start" font-weight="bold" textLength="25.5" lengthAdjust="spacingAndGlyphs" stroke="#111" stroke-width="0.12">DOXORUBICIN</text>
<text x="62.75" y="163.80" font-size="3.9" fill="#111" text-anchor="middle" font-weight="bold" textLength="13.6" lengthAdjust="spacingAndGlyphs" stroke="#111" stroke-width="0.12">Fibrosis</text>
<path d="M20.30,165.5 H105.20" stroke="#999" stroke-width="0.6"/>
<text x="34.25" y="168.50" font-size="2.6" fill="#333" text-anchor="middle" font-weight="normal" stroke="#333" stroke-width="0.06">Global</text>
<path d="M20.30,169.4 H48.20" stroke="#999" stroke-width="0.6"/>
<text x="0.00" y="0.00" font-size="2.0" fill="#222" text-anchor="start" font-weight="normal" stroke="#222" stroke-width="0.14" transform="translate(24.25,180.10) rotate(-55)">All</text>
<text x="0.00" y="0.00" font-size="2.0" fill="#222" text-anchor="start" font-weight="normal" stroke="#222" stroke-width="0.14" transform="translate(33.75,180.10) rotate(-55)">Young mice</text>
<text x="0.00" y="0.00" font-size="2.0" fill="#222" text-anchor="start" font-weight="normal" stroke="#222" stroke-width="0.14" transform="translate(43.25,180.10) rotate(-55)">Old mice</text>
<text x="62.75" y="168.50" font-size="2.6" fill="#333" text-anchor="middle" font-weight="normal" stroke="#333" stroke-width="0.06">Subendocardial</text>
<path d="M48.80,169.4 H76.70" stroke="#999" stroke-width="0.6"/>
<path d="M48.50,169.4 V181" stroke="#bbb" stroke-width="0.5"/>
<text x="0.00" y="0.00" font-size="2.0" fill="#222" text-anchor="start" font-weight="normal" stroke="#222" stroke-width="0.14" transform="translate(52.75,180.10) rotate(-55)">All</text>
<text x="0.00" y="0.00" font-size="2.0" fill="#222" text-anchor="start" font-weight="normal" stroke="#222" stroke-width="0.14" transform="translate(62.25,180.10) rotate(-55)">Young mice</text>
<text x="0.00" y="0.00" font-size="2.0" fill="#222" text-anchor="start" font-weight="normal" stroke="#222" stroke-width="0.14" transform="translate(71.75,180.10) rotate(-55)">Old mice</text>
<text x="91.25" y="168.50" font-size="2.6" fill="#333" text-anchor="middle" font-weight="normal" stroke="#333" stroke-width="0.06">Subepicardial</text>
<path d="M77.30,169.4 H105.20" stroke="#999" stroke-width="0.6"/>
<path d="M77.00,169.4 V181" stroke="#bbb" stroke-width="0.5"/>
<text x="0.00" y="0.00" font-size="2.0" fill="#222" text-anchor="start" font-weight="normal" stroke="#222" stroke-width="0.14" transform="translate(81.25,180.10) rotate(-55)">All</text>
<text x="0.00" y="0.00" font-size="2.0" fill="#222" text-anchor="start" font-weight="normal" stroke="#222" stroke-width="0.14" transform="translate(90.75,180.10) rotate(-55)">Young mice</text>
<text x="0.00" y="0.00" font-size="2.0" fill="#222" text-anchor="start" font-weight="normal" stroke="#222" stroke-width="0.14" transform="translate(100.25,180.10) rotate(-55)">Old mice</text>
<text x="148.25" y="163.80" font-size="3.9" fill="#111" text-anchor="middle" font-weight="bold" textLength="35.4" lengthAdjust="spacingAndGlyphs" stroke="#111" stroke-width="0.12">Cardiomyocyte Area</text>
<path d="M105.80,165.5 H190.70" stroke="#999" stroke-width="0.6"/>
<text x="119.75" y="168.50" font-size="2.6" fill="#333" text-anchor="middle" font-weight="normal" stroke="#333" stroke-width="0.06">Global</text>
<path d="M105.80,169.4 H133.70" stroke="#999" stroke-width="0.6"/>
<path d="M105.50,169.4 V181" stroke="#bbb" stroke-width="0.5"/>
<text x="0.00" y="0.00" font-size="2.0" fill="#222" text-anchor="start" font-weight="normal" stroke="#222" stroke-width="0.14" transform="translate(109.75,180.10) rotate(-55)">All</text>
<text x="0.00" y="0.00" font-size="2.0" fill="#222" text-anchor="start" font-weight="normal" stroke="#222" stroke-width="0.14" transform="translate(119.25,180.10) rotate(-55)">Young mice</text>
<text x="0.00" y="0.00" font-size="2.0" fill="#222" text-anchor="start" font-weight="normal" stroke="#222" stroke-width="0.14" transform="translate(128.75,180.10) rotate(-55)">Old mice</text>
<text x="148.25" y="168.50" font-size="2.6" fill="#333" text-anchor="middle" font-weight="normal" stroke="#333" stroke-width="0.06">Subendocardial</text>
<path d="M134.30,169.4 H162.20" stroke="#999" stroke-width="0.6"/>
<path d="M134.00,169.4 V181" stroke="#bbb" stroke-width="0.5"/>
<text x="0.00" y="0.00" font-size="2.0" fill="#222" text-anchor="start" font-weight="normal" stroke="#222" stroke-width="0.14" transform="translate(138.25,180.10) rotate(-55)">All</text>
<text x="0.00" y="0.00" font-size="2.0" fill="#222" text-anchor="start" font-weight="normal" stroke="#222" stroke-width="0.14" transform="translate(147.75,180.10) rotate(-55)">Young mice</text>
<text x="0.00" y="0.00" font-size="2.0" fill="#222" text-anchor="start" font-weight="normal" stroke="#222" stroke-width="0.14" transform="translate(157.25,180.10) rotate(-55)">Old mice</text>
<text x="176.75" y="168.50" font-size="2.6" fill="#333" text-anchor="middle" font-weight="normal" stroke="#333" stroke-width="0.06">Subepicardial</text>
<path d="M162.80,169.4 H190.70" stroke="#999" stroke-width="0.6"/>
<path d="M162.50,169.4 V181" stroke="#bbb" stroke-width="0.5"/>
<text x="0.00" y="0.00" font-size="2.0" fill="#222" text-anchor="start" font-weight="normal" stroke="#222" stroke-width="0.14" transform="translate(166.75,180.10) rotate(-55)">All</text>
<text x="0.00" y="0.00" font-size="2.0" fill="#222" text-anchor="start" font-weight="normal" stroke="#222" stroke-width="0.14" transform="translate(176.25,180.10) rotate(-55)">Young mice</text>
<text x="0.00" y="0.00" font-size="2.0" fill="#222" text-anchor="start" font-weight="normal" stroke="#222" stroke-width="0.14" transform="translate(185.75,180.10) rotate(-55)">Old mice</text>
<rect x="20" y="181" width="171.00" height="151.80" fill="#0d0d0d"/>
<path d="M20,182.50 H191.00 M20,184.60 H191.00 M20,186.70 H191.00 M20,188.80 H191.00 M20,190.90 H191.00 M20,193.00 H191.00 M20,195.10 H191.00 M20,197.20 H191.00 M20,199.30 H191.00 M20,201.40 H191.00 M20,203.50 H191.00 M20,205.60 H191.00 M20,207.70 H191.00 M20,209.80 H191.00 M20,211.90 H191.00 M20,214.00 H191.00 M20,216.10 H191.00 M20,218.20 H191.00 M20,220.30 H191.00 M20,222.40 H191.00 M20,224.50 H191.00 M20,226.60 H191.00 M20,228.70 H191.00 M20,230.80 H191.00 M20,232.90 H191.00 M20,235.00 H191.00 M20,237.10 H191.00 M20,239.20 H191.00 M20,241.30 H191.00 M20,243.40 H191.00 M20,245.50 H191.00 M20,247.60 H191.00 M20,249.70 H191.00 M20,251.80 H191.00 M20,253.90 H191.00 M20,256.00 H191.00 M20,258.10 H191.00 M20,260.20 H191.00 M20,262.30 H191.00 M20,264.40 H191.00 M20,266.50 H191.00 M20,268.60 H191.00 M20,270.70 H191.00 M20,272.80 H191.00 M20,274.90 H191.00 M20,277.00 H191.00 M20,279.10 H191.00 M20,281.20 H191.00 M20,283.30 H191.00 M20,285.40 H191.00 M20,287.50 H191.00 M20,289.60 H191.00 M20,291.70 H191.00 M20,293.80 H191.00 M20,295.90 H191.00 M20,298.00 H191.00 M20,300.10 H191.00 M20,302.20 H191.00 M20,304.30 H191.00 M20,306.40 H191.00 M20,308.50 H191.00 M20,310.60 H191.00 M20,312.70 H191.00 M20,314.80 H191.00 M20,316.90 H191.00 M20,319.00 H191.00 M20,321.10 H191.00 M20,323.20 H191.00 M20,325.30 H191.00 M20,327.40 H191.00 M20,329.50 H191.00 M20,331.60 H191.00" stroke="#1e1e1e" stroke-width="0.5"/>
<rect x="49.00" y="193.90" width="8.50" height="0.8" fill="#6a6020"/>
<rect x="96.50" y="193.80" width="8.50" height="1.0" fill="#8a7a20"/>
<rect x="20.50" y="218.70" width="8.50" height="1.8" fill="#e8b030"/>
<rect x="39.50" y="217.90" width="8.50" height="2.6" fill="#f4a040"/>
<rect x="49.00" y="219.60" width="8.50" height="0.8" fill="#d08060"/>
<rect x="68.00" y="219.70" width="8.50" height="0.6" fill="#605020"/>
<rect x="77.50" y="218.80" width="8.50" height="1.6" fill="#e89040"/>
<rect x="96.50" y="218.00" width="8.50" height="2.6" fill="#f8d030"/>
<rect x="125.00" y="218.90" width="8.50" height="1.0" fill="#a09020"/>
<rect x="182.00" y="218.90" width="8.50" height="1.0" fill="#a09020"/>
<rect x="30.00" y="246.75" width="8.50" height="1.5" fill="#f8e020"/>
<rect x="87.00" y="246.75" width="8.50" height="1.5" fill="#f8e020"/>
<rect x="20.50" y="273.05" width="8.50" height="1.5" fill="#e8d020"/>
<rect x="30.00" y="274.70" width="8.50" height="1.2" fill="#b06020"/>
<rect x="87.00" y="274.90" width="8.50" height="0.8" fill="#705020"/>
<rect x="106.00" y="280.80" width="8.50" height="1.6" fill="#f0c030"/>
<rect x="106.00" y="282.40" width="8.50" height="1.6" fill="#f08030"/>
<rect x="134.50" y="276.20" width="8.50" height="0.8" fill="#807020"/>
<rect x="134.50" y="280.80" width="8.50" height="1.6" fill="#f0c030"/>
<rect x="134.50" y="282.40" width="8.50" height="1.6" fill="#f07a30"/>
<rect x="153.50" y="280.80" width="8.50" height="1.6" fill="#f0b030"/>
<rect x="153.50" y="282.40" width="8.50" height="1.6" fill="#f08a30"/>
<rect x="163.00" y="280.80" width="8.50" height="3.2" fill="#e45a30"/>
<rect x="182.00" y="281.20" width="8.50" height="2.8" fill="#f2d030"/>
<rect x="30.00" y="298.00" width="8.50" height="4.0" fill="#f8d030"/>
<rect x="87.00" y="298.00" width="8.50" height="4.0" fill="#f8d030"/>
<rect x="20.50" y="298.50" width="8.50" height="0.8" fill="#8a8020"/>
<rect x="134.50" y="298.00" width="8.50" height="4.0" fill="#f4b830"/>
<rect x="153.50" y="298.00" width="8.50" height="4.0" fill="#f0b040"/>
<rect x="182.00" y="298.85" width="8.50" height="2.7" fill="#f8d030"/>
<rect x="125.00" y="310.60" width="8.50" height="0.8" fill="#806020"/>
<rect x="144.00" y="316.25" width="8.50" height="1.1" fill="#f8c820"/>
<rect x="163.00" y="311.65" width="8.50" height="0.9" fill="#f4d820"/>
<rect x="163.00" y="313.80" width="8.50" height="0.8" fill="#605020"/>
<rect x="172.50" y="315.75" width="8.50" height="1.1" fill="#f8a030"/>
<rect x="182.00" y="310.60" width="8.50" height="0.8" fill="#706020"/>
<rect x="106.00" y="315.35" width="8.50" height="0.7" fill="#705030"/>
<path d="M29.50,181 V332.8 M39.50,181 V332.8 M48.50,181 V332.8 M58.50,181 V332.8 M67.50,181 V332.8 M77.50,181 V332.8 M86.50,181 V332.8 M96.50,181 V332.8 M105.50,181 V332.8 M115.50,181 V332.8 M124.50,181 V332.8 M134.50,181 V332.8 M143.50,181 V332.8 M153.50,181 V332.8 M162.50,181 V332.8 M172.50,181 V332.8 M181.50,181 V332.8 M20,191.5 H191.00 M20,202.5 H191.00 M20,213.5 H191.00 M20,220.5 H191.00 M20,229.5 H191.00 M20,238.5 H191.00 M20,246.5 H191.00 M20,255.5 H191.00 M20,263.5 H191.00 M20,270.5 H191.00 M20,277.5 H191.00 M20,284.5 H191.00 M20,291.5 H191.00 M20,298.5 H191.00 M20,304.5 H191.00 M20,310.5 H191.00 M20,315.5 H191.00 M20,320.5 H191.00 M20,325.5 H191.00" stroke="#8c8c8c" stroke-width="1.0"/>
<text x="17.40" y="187.95" font-size="2.6" fill="#444" text-anchor="end" font-weight="normal"  stroke="#444" stroke-width="0.1">Chr 1</text>
<text x="17.40" y="198.75" font-size="2.6" fill="#444" text-anchor="end" font-weight="normal"  stroke="#444" stroke-width="0.1">Chr 2</text>
<text x="17.40" y="209.40" font-size="2.6" fill="#444" text-anchor="end" font-weight="normal"  stroke="#444" stroke-width="0.1">Chr 3</text>
<text x="17.40" y="218.20" font-size="2.6" fill="#444" text-anchor="end" font-weight="normal"  stroke="#444" stroke-width="0.1">Chr 4</text>
<text x="17.40" y="226.45" font-size="2.6" fill="#444" text-anchor="end" font-weight="normal"  stroke="#444" stroke-width="0.1">Chr 5</text>
<text x="17.40" y="235.65" font-size="2.6" fill="#444" text-anchor="end" font-weight="normal"  stroke="#444" stroke-width="0.1">Chr 6</text>
<text x="17.40" y="244.20" font-size="2.6" fill="#444" text-anchor="end" font-weight="normal"  stroke="#444" stroke-width="0.1">Chr 7</text>
<text x="17.40" y="252.50" font-size="2.6" fill="#444" text-anchor="end" font-weight="normal"  stroke="#444" stroke-width="0.1">Chr 8</text>
<text x="17.40" y="260.80" font-size="2.6" fill="#444" text-anchor="end" font-weight="normal"  stroke="#444" stroke-width="0.1">Chr 9</text>
<text x="17.40" y="268.65" font-size="2.6" fill="#444" text-anchor="end" font-weight="normal"  stroke="#444" stroke-width="0.1">Chr 10</text>
<text x="17.40" y="276.00" font-size="2.6" fill="#444" text-anchor="end" font-weight="normal"  stroke="#444" stroke-width="0.1">Chr 11</text>
<text x="17.40" y="282.80" font-size="2.6" fill="#444" text-anchor="end" font-weight="normal"  stroke="#444" stroke-width="0.1">Chr 12</text>
<text x="17.40" y="289.55" font-size="2.6" fill="#444" text-anchor="end" font-weight="normal"  stroke="#444" stroke-width="0.1">Chr 13</text>
<text x="17.40" y="296.65" font-size="2.6" fill="#444" text-anchor="end" font-weight="normal"  stroke="#444" stroke-width="0.1">Chr 14</text>
<text x="17.40" y="302.95" font-size="2.6" fill="#444" text-anchor="end" font-weight="normal"  stroke="#444" stroke-width="0.1">Chr 15</text>
<text x="17.40" y="308.70" font-size="2.6" fill="#444" text-anchor="end" font-weight="normal"  stroke="#444" stroke-width="0.1">Chr 16</text>
<text x="17.40" y="314.45" font-size="2.6" fill="#444" text-anchor="end" font-weight="normal"  stroke="#444" stroke-width="0.1">Chr 17</text>
<text x="17.40" y="319.75" font-size="2.6" fill="#444" text-anchor="end" font-weight="normal"  stroke="#444" stroke-width="0.1">Chr 18</text>
<text x="17.40" y="324.80" font-size="2.6" fill="#444" text-anchor="end" font-weight="normal"  stroke="#444" stroke-width="0.1">Chr 19</text>
<text x="17.40" y="330.80" font-size="2.6" fill="#444" text-anchor="end" font-weight="normal"  stroke="#444" stroke-width="0.1">Chr X</text>
<text x="274.90" y="159.80" font-size="3.9" fill="#111" text-anchor="start" font-weight="bold" textLength="42.8" lengthAdjust="spacingAndGlyphs" stroke="#111" stroke-width="0.12">COMBINED TREATMENT</text>
<text x="257.50" y="166.30" font-size="3.9" fill="#111" text-anchor="middle" font-weight="bold" textLength="13.6" lengthAdjust="spacingAndGlyphs" stroke="#111" stroke-width="0.12">Fibrosis</text>
<path d="M215.30,167.6 H299.70" stroke="#999" stroke-width="0.6"/>
<text x="229.17" y="170.60" font-size="2.6" fill="#333" text-anchor="middle" font-weight="normal" stroke="#333" stroke-width="0.06">Global</text>
<path d="M215.30,171.8 H243.03" stroke="#999" stroke-width="0.6"/>
<text x="0.00" y="0.00" font-size="2.0" fill="#222" text-anchor="start" font-weight="normal" stroke="#222" stroke-width="0.14" transform="translate(219.22,181.30) rotate(-55)">All</text>
<text x="0.00" y="0.00" font-size="2.0" fill="#222" text-anchor="start" font-weight="normal" stroke="#222" stroke-width="0.14" transform="translate(228.67,181.30) rotate(-55)">Young mice</text>
<text x="0.00" y="0.00" font-size="2.0" fill="#222" text-anchor="start" font-weight="normal" stroke="#222" stroke-width="0.14" transform="translate(238.11,181.30) rotate(-55)">Old mice</text>
<text x="257.50" y="170.60" font-size="2.6" fill="#333" text-anchor="middle" font-weight="normal" stroke="#333" stroke-width="0.06">Subendocardial</text>
<path d="M243.63,171.8 H271.36" stroke="#999" stroke-width="0.6"/>
<path d="M243.33,171.8 V182.2" stroke="#bbb" stroke-width="0.5"/>
<text x="0.00" y="0.00" font-size="2.0" fill="#222" text-anchor="start" font-weight="normal" stroke="#222" stroke-width="0.14" transform="translate(247.55,181.30) rotate(-55)">All</text>
<text x="0.00" y="0.00" font-size="2.0" fill="#222" text-anchor="start" font-weight="normal" stroke="#222" stroke-width="0.14" transform="translate(257.00,181.30) rotate(-55)">Young mice</text>
<text x="0.00" y="0.00" font-size="2.0" fill="#222" text-anchor="start" font-weight="normal" stroke="#222" stroke-width="0.14" transform="translate(266.44,181.30) rotate(-55)">Old mice</text>
<text x="285.83" y="170.60" font-size="2.6" fill="#333" text-anchor="middle" font-weight="normal" stroke="#333" stroke-width="0.06">Subepicardial</text>
<path d="M271.96,171.8 H299.70" stroke="#999" stroke-width="0.6"/>
<path d="M271.66,171.8 V182.2" stroke="#bbb" stroke-width="0.5"/>
<text x="0.00" y="0.00" font-size="2.0" fill="#222" text-anchor="start" font-weight="normal" stroke="#222" stroke-width="0.14" transform="translate(275.89,181.30) rotate(-55)">All</text>
<text x="0.00" y="0.00" font-size="2.0" fill="#222" text-anchor="start" font-weight="normal" stroke="#222" stroke-width="0.14" transform="translate(285.33,181.30) rotate(-55)">Young mice</text>
<text x="0.00" y="0.00" font-size="2.0" fill="#222" text-anchor="start" font-weight="normal" stroke="#222" stroke-width="0.14" transform="translate(294.77,181.30) rotate(-55)">Old mice</text>
<text x="342.49" y="166.30" font-size="3.9" fill="#111" text-anchor="middle" font-weight="bold" textLength="35.4" lengthAdjust="spacingAndGlyphs" stroke="#111" stroke-width="0.12">Cardiomyocyte Area</text>
<path d="M300.30,167.6 H384.69" stroke="#999" stroke-width="0.6"/>
<text x="314.16" y="170.60" font-size="2.6" fill="#333" text-anchor="middle" font-weight="normal" stroke="#333" stroke-width="0.06">Global</text>
<path d="M300.30,171.8 H328.03" stroke="#999" stroke-width="0.6"/>
<path d="M300.00,171.8 V182.2" stroke="#bbb" stroke-width="0.5"/>
<text x="0.00" y="0.00" font-size="2.0" fill="#222" text-anchor="start" font-weight="normal" stroke="#222" stroke-width="0.14" transform="translate(304.22,181.30) rotate(-55)">All</text>
<text x="0.00" y="0.00" font-size="2.0" fill="#222" text-anchor="start" font-weight="normal" stroke="#222" stroke-width="0.14" transform="translate(313.66,181.30) rotate(-55)">Young mice</text>
<text x="0.00" y="0.00" font-size="2.0" fill="#222" text-anchor="start" font-weight="normal" stroke="#222" stroke-width="0.14" transform="translate(323.11,181.30) rotate(-55)">Old mice</text>
<text x="342.49" y="170.60" font-size="2.6" fill="#333" text-anchor="middle" font-weight="normal" stroke="#333" stroke-width="0.06">Subendocardial</text>
<path d="M328.63,171.8 H356.36" stroke="#999" stroke-width="0.6"/>
<path d="M328.33,171.8 V182.2" stroke="#bbb" stroke-width="0.5"/>
<text x="0.00" y="0.00" font-size="2.0" fill="#222" text-anchor="start" font-weight="normal" stroke="#222" stroke-width="0.14" transform="translate(332.55,181.30) rotate(-55)">All</text>
<text x="0.00" y="0.00" font-size="2.0" fill="#222" text-anchor="start" font-weight="normal" stroke="#222" stroke-width="0.14" transform="translate(341.99,181.30) rotate(-55)">Young mice</text>
<text x="0.00" y="0.00" font-size="2.0" fill="#222" text-anchor="start" font-weight="normal" stroke="#222" stroke-width="0.14" transform="translate(351.44,181.30) rotate(-55)">Old mice</text>
<text x="370.83" y="170.60" font-size="2.6" fill="#333" text-anchor="middle" font-weight="normal" stroke="#333" stroke-width="0.06">Subepicardial</text>
<path d="M356.96,171.8 H384.69" stroke="#999" stroke-width="0.6"/>
<path d="M356.66,171.8 V182.2" stroke="#bbb" stroke-width="0.5"/>
<text x="0.00" y="0.00" font-size="2.0" fill="#222" text-anchor="start" font-weight="normal" stroke="#222" stroke-width="0.14" transform="translate(360.88,181.30) rotate(-55)">All</text>
<text x="0.00" y="0.00" font-size="2.0" fill="#222" text-anchor="start" font-weight="normal" stroke="#222" stroke-width="0.14" transform="translate(370.33,181.30) rotate(-55)">Young mice</text>
<text x="0.00" y="0.00" font-size="2.0" fill="#222" text-anchor="start" font-weight="normal" stroke="#222" stroke-width="0.14" transform="translate(379.77,181.30) rotate(-55)">Old mice</text>
<rect x="215" y="182.2" width="169.99" height="150.70" fill="#0d0d0d"/>
<path d="M215,183.70 H384.99 M215,185.80 H384.99 M215,187.90 H384.99 M215,190.00 H384.99 M215,192.10 H384.99 M215,194.20 H384.99 M215,196.30 H384.99 M215,198.40 H384.99 M215,200.50 H384.99 M215,202.60 H384.99 M215,204.70 H384.99 M215,206.80 H384.99 M215,208.90 H384.99 M215,211.00 H384.99 M215,213.10 H384.99 M215,215.20 H384.99 M215,217.30 H384.99 M215,219.40 H384.99 M215,221.50 H384.99 M215,223.60 H384.99 M215,225.70 H384.99 M215,227.80 H384.99 M215,229.90 H384.99 M215,232.00 H384.99 M215,234.10 H384.99 M215,236.20 H384.99 M215,238.30 H384.99 M215,240.40 H384.99 M215,242.50 H384.99 M215,244.60 H384.99 M215,246.70 H384.99 M215,248.80 H384.99 M215,250.90 H384.99 M215,253.00 H384.99 M215,255.10 H384.99 M215,257.20 H384.99 M215,259.30 H384.99 M215,261.40 H384.99 M215,263.50 H384.99 M215,265.60 H384.99 M215,267.70 H384.99 M215,269.80 H384.99 M215,271.90 H384.99 M215,274.00 H384.99 M215,276.10 H384.99 M215,278.20 H384.99 M215,280.30 H384.99 M215,282.40 H384.99 M215,284.50 H384.99 M215,286.60 H384.99 M215,288.70 H384.99 M215,290.80 H384.99 M215,292.90 H384.99 M215,295.00 H384.99 M215,297.10 H384.99 M215,299.20 H384.99 M215,301.30 H384.99 M215,303.40 H384.99 M215,305.50 H384.99 M215,307.60 H384.99 M215,309.70 H384.99 M215,311.80 H384.99 M215,313.90 H384.99 M215,316.00 H384.99 M215,318.10 H384.99 M215,320.20 H384.99 M215,322.30 H384.99 M215,324.40 H384.99 M215,326.50 H384.99 M215,328.60 H384.99 M215,330.70 H384.99 M215,332.80 H384.99" stroke="#1e1e1e" stroke-width="0.5"/>
<rect x="243.83" y="199.60" width="8.44" height="1.0" fill="#f0a020"/>
<rect x="243.83" y="200.50" width="8.44" height="1.2" fill="#e84020"/>
<rect x="253.28" y="196.85" width="8.44" height="1.1" fill="#8a8030"/>
<rect x="253.28" y="198.45" width="8.44" height="1.5" fill="#f8e040"/>
<rect x="253.28" y="199.95" width="8.44" height="2.1" fill="#e82818"/>
<rect x="272.16" y="200.60" width="8.44" height="0.8" fill="#605018"/>
<rect x="281.61" y="199.80" width="8.44" height="1.2" fill="#f8d820"/>
<rect x="291.05" y="212.30" width="8.44" height="0.8" fill="#806040"/>
<rect x="215.50" y="224.85" width="8.44" height="1.9" fill="#e09020"/>
<rect x="272.16" y="224.85" width="8.44" height="1.9" fill="#e09020"/>
<rect x="338.27" y="198.55" width="8.44" height="1.3" fill="#f8d020"/>
<rect x="338.27" y="199.85" width="8.44" height="1.3" fill="#f0a020"/>
<rect x="366.60" y="199.80" width="8.44" height="1.2" fill="#f0c820"/>
<rect x="357.16" y="233.90" width="8.44" height="1.0" fill="#e8c820"/>
<rect x="215.50" y="265.35" width="8.44" height="2.1" fill="#f09028"/>
<rect x="215.50" y="267.45" width="8.44" height="2.1" fill="#f8d030"/>
<rect x="215.50" y="269.60" width="8.44" height="3.2" fill="#4a4010"/>
<rect x="215.50" y="274.25" width="8.44" height="2.7" fill="#f0a030"/>
<rect x="224.94" y="275.00" width="8.44" height="1.0" fill="#d8d020"/>
<rect x="234.39" y="267.10" width="8.44" height="0.8" fill="#a09020"/>
<rect x="243.83" y="264.95" width="8.44" height="3.1" fill="#f8c028"/>
<rect x="272.16" y="265.35" width="8.44" height="2.1" fill="#f06030"/>
<rect x="272.16" y="267.45" width="8.44" height="1.5" fill="#f8d030"/>
<rect x="272.16" y="274.85" width="8.44" height="1.7" fill="#f0a030"/>
<rect x="281.61" y="265.40" width="8.44" height="0.8" fill="#706020"/>
<rect x="281.61" y="268.20" width="8.44" height="0.8" fill="#a09020"/>
<rect x="281.61" y="274.50" width="8.44" height="0.8" fill="#605018"/>
<rect x="291.05" y="267.10" width="8.44" height="0.8" fill="#a09020"/>
<rect x="291.05" y="272.00" width="8.44" height="0.8" fill="#c0b020"/>
<rect x="300.50" y="265.40" width="8.44" height="1.2" fill="#f0d020"/>
<rect x="319.38" y="266.10" width="8.44" height="0.8" fill="#807020"/>
<rect x="309.94" y="287.10" width="8.44" height="0.8" fill="#605020"/>
<rect x="366.60" y="287.10" width="8.44" height="0.8" fill="#706020"/>
<rect x="243.83" y="323.30" width="8.44" height="0.8" fill="#807020"/>
<rect x="319.38" y="303.70" width="8.44" height="0.8" fill="#c08040"/>
<rect x="376.05" y="303.70" width="8.44" height="0.8" fill="#809020"/>
<rect x="376.05" y="319.10" width="8.44" height="0.8" fill="#c09050"/>
<rect x="319.38" y="319.10" width="8.44" height="0.8" fill="#c0b060"/>
<rect x="347.72" y="318.70" width="8.44" height="0.8" fill="#c0b040"/>
<path d="M224.50,182.2 V332.9 M233.50,182.2 V332.9 M243.50,182.2 V332.9 M252.50,182.2 V332.9 M262.50,182.2 V332.9 M271.50,182.2 V332.9 M281.50,182.2 V332.9 M290.50,182.2 V332.9 M299.50,182.2 V332.9 M309.50,182.2 V332.9 M318.50,182.2 V332.9 M328.50,182.2 V332.9 M337.50,182.2 V332.9 M347.50,182.2 V332.9 M356.50,182.2 V332.9 M366.50,182.2 V332.9 M375.50,182.2 V332.9 M215.00,193.5 H224.44 M224.44,193.5 H233.89 M233.89,193.5 H243.33 M243.33,193.5 H252.78 M252.78,193.5 H262.22 M262.22,192.5 H271.66 M271.66,192.5 H281.11 M281.11,192.5 H290.55 M290.55,192.5 H300.00 M300.00,192.5 H309.44 M309.44,192.5 H318.88 M318.88,192.5 H328.33 M328.33,192.5 H337.77 M337.77,192.5 H347.22 M347.22,191.5 H356.66 M356.66,191.5 H366.10 M366.10,191.5 H375.55 M375.55,191.5 H384.99 M215.00,203.5 H224.44 M224.44,203.5 H233.89 M233.89,203.5 H243.33 M243.33,203.5 H252.78 M252.78,203.5 H262.22 M262.22,203.5 H271.66 M271.66,202.5 H281.11 M281.11,202.5 H290.55 M290.55,202.5 H300.00 M300.00,202.5 H309.44 M309.44,202.5 H318.88 M318.88,202.5 H328.33 M328.33,202.5 H337.77 M337.77,202.5 H347.22 M347.22,202.5 H356.66 M356.66,201.5 H366.10 M366.10,201.5 H375.55 M375.55,201.5 H384.99 M215.00,213.5 H224.44 M224.44,213.5 H233.89 M233.89,213.5 H243.33 M243.33,213.5 H252.78 M252.78,212.5 H262.22 M262.22,212.5 H271.66 M271.66,212.5 H281.11 M281.11,212.5 H290.55 M290.55,212.5 H300.00 M300.00,212.5 H309.44 M309.44,212.5 H318.88 M318.88,212.5 H328.33 M328.33,212.5 H337.77 M337.77,211.5 H347.22 M347.22,211.5 H356.66 M356.66,211.5 H366.10 M366.10,211.5 H375.55 M375.55,211.5 H384.99 M215.00,221.5 H224.44 M224.44,221.5 H233.89 M233.89,221.5 H243.33 M243.33,221.5 H252.78 M252.78,220.5 H262.22 M262.22,220.5 H271.66 M271.66,220.5 H281.11 M281.11,220.5 H290.55 M290.55,220.5 H300.00 M300.00,220.5 H309.44 M309.44,220.5 H318.88 M318.88,220.5 H328.33 M328.33,220.5 H337.77 M337.77,219.5 H347.22 M347.22,219.5 H356.66 M356.66,219.5 H366.10 M366.10,219.5 H375.55 M375.55,219.5 H384.99 M215.00,229.5 H224.44 M224.44,229.5 H233.89 M233.89,229.5 H243.33 M243.33,229.5 H252.78 M252.78,229.5 H262.22 M262.22,229.5 H271.66 M271.66,229.5 H281.11 M281.11,229.5 H290.55 M290.55,229.5 H300.00 M300.00,228.5 H309.44 M309.44,228.5 H318.88 M318.88,228.5 H328.33 M328.33,228.5 H337.77 M337.77,228.5 H347.22 M347.22,228.5 H356.66 M356.66,228.5 H366.10 M366.10,228.5 H375.55 M375.55,227.5 H384.99 M215.00,239.5 H224.44 M224.44,239.5 H233.89 M233.89,239.5 H243.33 M243.33,239.5 H252.78 M252.78,238.5 H262.22 M262.22,238.5 H271.66 M271.66,238.5 H281.11 M281.11,238.5 H290.55 M290.55,238.5 H300.00 M300.00,238.5 H309.44 M309.44,238.5 H318.88 M318.88,238.5 H328.33 M328.33,238.5 H337.77 M337.77,237.5 H347.22 M347.22,237.5 H356.66 M356.66,237.5 H366.10 M366.10,237.5 H375.55 M375.55,237.5 H384.99 M215.00,247.5 H224.44 M224.44,247.5 H233.89 M233.89,247.5 H243.33 M243.33,246.5 H252.78 M252.78,246.5 H262.22 M262.22,246.5 H271.66 M271.66,246.5 H281.11 M281.11,246.5 H290.55 M290.55,246.5 H300.00 M300.00,246.5 H309.44 M309.44,246.5 H318.88 M318.88,245.5 H328.33 M328.33,245.5 H337.77 M337.77,245.5 H347.22 M347.22,245.5 H356.66 M356.66,245.5 H366.10 M366.10,245.5 H375.55 M375.55,245.5 H384.99 M215.00,255.5 H224.44 M224.44,255.5 H233.89 M233.89,255.5 H243.33 M243.33,255.5 H252.78 M252.78,255.5 H262.22 M262.22,254.5 H271.66 M271.66,254.5 H281.11 M281.11,254.5 H290.55 M290.55,254.5 H300.00 M300.00,254.5 H309.44 M309.44,254.5 H318.88 M318.88,254.5 H328.33 M328.33,254.5 H337.77 M337.77,254.5 H347.22 M347.22,253.5 H356.66 M356.66,253.5 H366.10 M366.10,253.5 H375.55 M375.55,253.5 H384.99 M215.00,263.5 H224.44 M224.44,263.5 H233.89 M233.89,263.5 H243.33 M243.33,263.5 H252.78 M252.78,263.5 H262.22 M262.22,263.5 H271.66 M271.66,263.5 H281.11 M281.11,262.5 H290.55 M290.55,262.5 H300.00 M300.00,262.5 H309.44 M309.44,262.5 H318.88 M318.88,262.5 H328.33 M328.33,262.5 H337.77 M337.77,262.5 H347.22 M347.22,262.5 H356.66 M356.66,261.5 H366.10 M366.10,261.5 H375.55 M375.55,261.5 H384.99 M215.00,270.5 H224.44 M224.44,270.5 H233.89 M233.89,270.5 H243.33 M243.33,270.5 H252.78 M252.78,270.5 H262.22 M262.22,270.5 H271.66 M271.66,270.5 H281.11 M281.11,270.5 H290.55 M290.55,269.5 H300.00 M300.00,269.5 H309.44 M309.44,269.5 H318.88 M318.88,269.5 H328.33 M328.33,269.5 H337.77 M337.77,269.5 H347.22 M347.22,269.5 H356.66 M356.66,269.5 H366.10 M366.10,268.5 H375.55 M375.55,268.5 H384.99 M215.00,278.5 H224.44 M224.44,278.5 H233.89 M233.89,278.5 H243.33 M243.33,278.5 H252.78 M252.78,277.5 H262.22 M262.22,277.5 H271.66 M271.66,277.5 H281.11 M281.11,277.5 H290.55 M290.55,277.5 H300.00 M300.00,277.5 H309.44 M309.44,277.5 H318.88 M318.88,277.5 H328.33 M328.33,277.5 H337.77 M337.77,276.5 H347.22 M347.22,276.5 H356.66 M356.66,276.5 H366.10 M366.10,276.5 H375.55 M375.55,276.5 H384.99 M215.00,284.5 H224.44 M224.44,284.5 H233.89 M233.89,284.5 H243.33 M243.33,284.5 H252.78 M252.78,283.5 H262.22 M262.22,283.5 H271.66 M271.66,283.5 H281.11 M281.11,283.5 H290.55 M290.55,283.5 H300.00 M300.00,283.5 H309.44 M309.44,283.5 H318.88 M318.88,283.5 H328.33 M328.33,283.5 H337.77 M337.77,282.5 H347.22 M347.22,282.5 H356.66 M356.66,282.5 H366.10 M366.10,282.5 H375.55 M375.55,282.5 H384.99 M215.00,291.5 H224.44 M224.44,291.5 H233.89 M233.89,291.5 H243.33 M243.33,291.5 H252.78 M252.78,291.5 H262.22 M262.22,290.5 H271.66 M271.66,290.5 H281.11 M281.11,290.5 H290.55 M290.55,290.5 H300.00 M300.00,290.5 H309.44 M309.44,290.5 H318.88 M318.88,290.5 H328.33 M328.33,290.5 H337.77 M337.77,290.5 H347.22 M347.22,289.5 H356.66 M356.66,289.5 H366.10 M366.10,289.5 H375.55 M375.55,289.5 H384.99 M215.00,298.5 H224.44 M224.44,298.5 H233.89 M233.89,298.5 H243.33 M243.33,297.5 H252.78 M252.78,297.5 H262.22 M262.22,297.5 H271.66 M271.66,297.5 H281.11 M281.11,297.5 H290.55 M290.55,297.5 H300.00 M300.00,297.5 H309.44 M309.44,297.5 H318.88 M318.88,296.5 H328.33 M328.33,296.5 H337.77 M337.77,296.5 H347.22 M347.22,296.5 H356.66 M356.66,296.5 H366.10 M366.10,296.5 H375.55 M375.55,296.5 H384.99 M215.00,304.5 H224.44 M224.44,304.5 H233.89 M233.89,304.5 H243.33 M243.33,303.5 H252.78 M252.78,303.5 H262.22 M262.22,303.5 H271.66 M271.66,303.5 H281.11 M281.11,303.5 H290.55 M290.55,303.5 H300.00 M300.00,303.5 H309.44 M309.44,303.5 H318.88 M318.88,302.5 H328.33 M328.33,302.5 H337.77 M337.77,302.5 H347.22 M347.22,302.5 H356.66 M356.66,302.5 H366.10 M366.10,302.5 H375.55 M375.55,302.5 H384.99 M215.00,310.5 H224.44 M224.44,310.5 H233.89 M233.89,310.5 H243.33 M243.33,309.5 H252.78 M252.78,309.5 H262.22 M262.22,309.5 H271.66 M271.66,309.5 H281.11 M281.11,309.5 H290.55 M290.55,309.5 H300.00 M300.00,309.5 H309.44 M309.44,309.5 H318.88 M318.88,309.5 H328.33 M328.33,308.5 H337.77 M337.77,308.5 H347.22 M347.22,308.5 H356.66 M356.66,308.5 H366.10 M366.10,308.5 H375.55 M375.55,308.5 H384.99 M215.00,315.5 H224.44 M224.44,315.5 H233.89 M233.89,315.5 H243.33 M243.33,314.5 H252.78 M252.78,314.5 H262.22 M262.22,314.5 H271.66 M271.66,314.5 H281.11 M281.11,314.5 H290.55 M290.55,314.5 H300.00 M300.00,314.5 H309.44 M309.44,314.5 H318.88 M318.88,314.5 H328.33 M328.33,313.5 H337.77 M337.77,313.5 H347.22 M347.22,313.5 H356.66 M356.66,313.5 H366.10 M366.10,313.5 H375.55 M375.55,313.5 H384.99 M215.00,320.5 H224.44 M224.44,320.5 H233.89 M233.89,320.5 H243.33 M243.33,319.5 H252.78 M252.78,319.5 H262.22 M262.22,319.5 H271.66 M271.66,319.5 H281.11 M281.11,319.5 H290.55 M290.55,319.5 H300.00 M300.00,319.5 H309.44 M309.44,319.5 H318.88 M318.88,319.5 H328.33 M328.33,318.5 H337.77 M337.77,318.5 H347.22 M347.22,318.5 H356.66 M356.66,318.5 H366.10 M366.10,318.5 H375.55 M375.55,318.5 H384.99 M215.00,325.5 H224.44 M224.44,325.5 H233.89 M233.89,325.5 H243.33 M243.33,325.5 H252.78 M252.78,324.5 H262.22 M262.22,324.5 H271.66 M271.66,324.5 H281.11 M281.11,324.5 H290.55 M290.55,324.5 H300.00 M300.00,324.5 H309.44 M309.44,324.5 H318.88 M318.88,324.5 H328.33 M328.33,324.5 H337.77 M337.77,323.5 H347.22 M347.22,323.5 H356.66 M356.66,323.5 H366.10 M366.10,323.5 H375.55 M375.55,323.5 H384.99" stroke="#8c8c8c" stroke-width="1.0"/>
<text x="212.40" y="189.50" font-size="2.6" fill="#444" text-anchor="end" font-weight="normal"  stroke="#444" stroke-width="0.1">Chr 1</text>
<text x="212.40" y="200.25" font-size="2.6" fill="#444" text-anchor="end" font-weight="normal"  stroke="#444" stroke-width="0.1">Chr 2</text>
<text x="212.40" y="210.20" font-size="2.6" fill="#444" text-anchor="end" font-weight="normal"  stroke="#444" stroke-width="0.1">Chr 3</text>
<text x="212.40" y="219.10" font-size="2.6" fill="#444" text-anchor="end" font-weight="normal"  stroke="#444" stroke-width="0.1">Chr 4</text>
<text x="212.40" y="227.35" font-size="2.6" fill="#444" text-anchor="end" font-weight="normal"  stroke="#444" stroke-width="0.1">Chr 5</text>
<text x="212.40" y="236.35" font-size="2.6" fill="#444" text-anchor="end" font-weight="normal"  stroke="#444" stroke-width="0.1">Chr 6</text>
<text x="212.40" y="245.00" font-size="2.6" fill="#444" text-anchor="end" font-weight="normal"  stroke="#444" stroke-width="0.1">Chr 7</text>
<text x="212.40" y="253.05" font-size="2.6" fill="#444" text-anchor="end" font-weight="normal"  stroke="#444" stroke-width="0.1">Chr 8</text>
<text x="212.40" y="261.30" font-size="2.6" fill="#444" text-anchor="end" font-weight="normal"  stroke="#444" stroke-width="0.1">Chr 9</text>
<text x="212.40" y="268.95" font-size="2.6" fill="#444" text-anchor="end" font-weight="normal"  stroke="#444" stroke-width="0.1">Chr 10</text>
<text x="212.40" y="276.30" font-size="2.6" fill="#444" text-anchor="end" font-weight="normal"  stroke="#444" stroke-width="0.1">Chr 11</text>
<text x="212.40" y="283.10" font-size="2.6" fill="#444" text-anchor="end" font-weight="normal"  stroke="#444" stroke-width="0.1">Chr 12</text>
<text x="212.40" y="289.65" font-size="2.6" fill="#444" text-anchor="end" font-weight="normal"  stroke="#444" stroke-width="0.1">Chr 13</text>
<text x="212.40" y="296.55" font-size="2.6" fill="#444" text-anchor="end" font-weight="normal"  stroke="#444" stroke-width="0.1">Chr 14</text>
<text x="212.40" y="302.90" font-size="2.6" fill="#444" text-anchor="end" font-weight="normal"  stroke="#444" stroke-width="0.1">Chr 15</text>
<text x="212.40" y="308.95" font-size="2.6" fill="#444" text-anchor="end" font-weight="normal"  stroke="#444" stroke-width="0.1">Chr 16</text>
<text x="212.40" y="314.50" font-size="2.6" fill="#444" text-anchor="end" font-weight="normal"  stroke="#444" stroke-width="0.1">Chr 17</text>
<text x="212.40" y="319.50" font-size="2.6" fill="#444" text-anchor="end" font-weight="normal"  stroke="#444" stroke-width="0.1">Chr 18</text>
<text x="212.40" y="324.55" font-size="2.6" fill="#444" text-anchor="end" font-weight="normal"  stroke="#444" stroke-width="0.1">Chr 19</text>
<text x="212.40" y="330.80" font-size="2.6" fill="#444" text-anchor="end" font-weight="normal"  stroke="#444" stroke-width="0.1">Chr X</text>
<rect x="395.4" y="179.5" width="5.1" height="60.4" fill="url(#lodg)"/>
<path d="M400.5,179.50 h1.2" stroke="#666" stroke-width="0.4"/>
<text x="403.30" y="180.50" font-size="2.9" fill="#444" text-anchor="start" font-weight="normal"  stroke="#444" stroke-width="0.08">4</text>
<path d="M400.5,191.58 h1.2" stroke="#666" stroke-width="0.4"/>
<text x="403.30" y="192.58" font-size="2.9" fill="#444" text-anchor="start" font-weight="normal"  stroke="#444" stroke-width="0.08">3.5</text>
<path d="M400.5,203.66 h1.2" stroke="#666" stroke-width="0.4"/>
<text x="403.30" y="204.66" font-size="2.9" fill="#444" text-anchor="start" font-weight="normal"  stroke="#444" stroke-width="0.08">3</text>
<path d="M400.5,215.74 h1.2" stroke="#666" stroke-width="0.4"/>
<text x="403.30" y="216.74" font-size="2.9" fill="#444" text-anchor="start" font-weight="normal"  stroke="#444" stroke-width="0.08">2.5</text>
<path d="M400.5,227.82 h1.2" stroke="#666" stroke-width="0.4"/>
<text x="403.30" y="228.82" font-size="2.9" fill="#444" text-anchor="start" font-weight="normal"  stroke="#444" stroke-width="0.08">2</text>
<path d="M400.5,239.90 h1.2" stroke="#666" stroke-width="0.4"/>
<text x="403.30" y="240.90" font-size="2.9" fill="#444" text-anchor="start" font-weight="normal"  stroke="#444" stroke-width="0.08">1.5</text>
<text x="0.00" y="0.00" font-size="3.6" fill="#444" text-anchor="middle" font-weight="normal" transform="translate(414.5,210.6) rotate(-90)" stroke="#444" stroke-width="0.08">LOD score</text>
<polyline points="157.60,451.50 157.47,448.31 157.10,445.15 156.48,442.02 155.61,438.95 154.51,435.96 153.17,433.07 151.62,430.29 149.85,427.64 147.87,425.13 145.71,422.79 143.37,420.63 140.86,418.65 138.21,416.88 135.43,415.33 132.54,413.99 129.55,412.89 126.48,412.02 123.35,411.40 120.19,411.03 117.00,410.90 113.81,411.03 110.65,411.40 107.52,412.02 104.45,412.89 101.46,413.99 98.57,415.33 95.79,416.88 93.14,418.65 90.63,420.63 88.29,422.79 86.13,425.13 84.15,427.64 82.38,430.29 80.83,433.07 79.49,435.96 78.39,438.95 77.52,442.02 76.90,445.15 76.53,448.31 76.40,451.50 76.53,454.69 76.90,457.85 77.52,460.98 78.39,464.05 79.49,467.04 80.83,469.93 82.38,472.71 84.15,475.36 86.13,477.87 88.29,480.21 90.63,482.37 93.14,484.35 95.79,486.12 98.57,487.67 101.46,489.01 104.45,490.11 107.52,490.98 110.65,491.60 113.81,491.97 117.00,492.10 120.19,491.97 123.35,491.60 126.48,490.98 129.55,490.11 132.54,489.01 135.43,487.67 138.21,486.12 140.86,484.35 143.37,482.37 145.71,480.21 147.87,477.87 149.85,475.36 151.62,472.71 153.17,469.93 154.51,467.04 155.61,464.05 156.48,460.98 157.10,457.85 157.47,454.69 157.60,451.50" fill="none" stroke="#d8a0b4" stroke-width="4.2"/>
<path d="M117.80,435.30 L117.00,395.00" stroke="#e0709a" stroke-width="0.75"/>
<circle cx="117.00" cy="395.00" r="1.35" fill="#d42a64"/>
<path d="M129.11,439.99 L156.95,411.55" stroke="#e0709a" stroke-width="0.75"/>
<circle cx="156.95" cy="411.55" r="1.35" fill="#d42a64"/>
<path d="M133.80,451.30 L173.50,451.50" stroke="#e0709a" stroke-width="0.75"/>
<circle cx="173.50" cy="451.50" r="1.35" fill="#d42a64"/>
<path d="M129.11,462.61 L156.95,491.45" stroke="#e0709a" stroke-width="0.75"/>
<circle cx="156.95" cy="491.45" r="1.35" fill="#d42a64"/>
<path d="M117.80,467.30 L117.00,508.00" stroke="#e0709a" stroke-width="0.75"/>
<circle cx="117.00" cy="508.00" r="1.35" fill="#d42a64"/>
<path d="M106.49,462.61 L77.05,491.45" stroke="#e0709a" stroke-width="0.75"/>
<circle cx="77.05" cy="491.45" r="1.35" fill="#d42a64"/>
<path d="M101.80,451.30 L60.50,451.50" stroke="#e0709a" stroke-width="0.75"/>
<circle cx="60.50" cy="451.50" r="1.35" fill="#d42a64"/>
<path d="M106.49,439.99 L77.05,411.55" stroke="#e0709a" stroke-width="0.75"/>
<circle cx="77.05" cy="411.55" r="1.35" fill="#d42a64"/>
<circle cx="117.00" cy="410.90" r="6.75" fill="#8e1f45"/>
<text x="117.00" y="411.70" font-size="2.3" fill="#ecd0da" text-anchor="middle" font-weight="normal" >ahQTL1</text>
<circle cx="145.71" cy="422.79" r="6.75" fill="#8e1f45"/>
<text x="145.71" y="423.59" font-size="2.3" fill="#ecd0da" text-anchor="middle" font-weight="normal" >ahQTL3</text>
<circle cx="157.60" cy="451.50" r="6.75" fill="#8e1f45"/>
<text x="157.60" y="452.30" font-size="2.3" fill="#ecd0da" text-anchor="middle" font-weight="normal" >ahQTL4</text>
<circle cx="145.71" cy="480.21" r="6.75" fill="#8e1f45"/>
<text x="145.71" y="481.01" font-size="2.3" fill="#ecd0da" text-anchor="middle" font-weight="normal" >ahQTL2</text>
<circle cx="117.00" cy="492.10" r="6.75" fill="#8e1f45"/>
<text x="117.00" y="492.90" font-size="2.3" fill="#ecd0da" text-anchor="middle" font-weight="normal" >ahQTL5</text>
<circle cx="88.29" cy="480.21" r="6.75" fill="#8e1f45"/>
<text x="88.29" y="481.01" font-size="2.3" fill="#ecd0da" text-anchor="middle" font-weight="normal" >ahQTL1</text>
<circle cx="76.40" cy="451.50" r="6.75" fill="#8e1f45"/>
<text x="76.40" y="452.30" font-size="2.3" fill="#ecd0da" text-anchor="middle" font-weight="normal" >ahQTL1</text>
<circle cx="88.29" cy="422.79" r="6.75" fill="#8e1f45"/>
<text x="88.29" y="423.59" font-size="2.3" fill="#ecd0da" text-anchor="middle" font-weight="normal" >ahQTL1</text>
<circle cx="117.8" cy="451.3" r="16.4" fill="#fff" stroke="#b4aeac" stroke-width="2"/>
<text x="117.8" y="454.30" font-size="8.0" fill="#958f8f" text-anchor="middle" textLength="23.4" lengthAdjust="spacingAndGlyphs">cda-QTL6</text>
<text x="117.50" y="385.80" font-size="5.95" fill="#3a3a3a" stroke="#3a3a3a" stroke-width="0.02" text-anchor="middle" textLength="37.16" lengthAdjust="spacingAndGlyphs">Global Fibrosis</text>
<text x="118.00" y="391.60" font-size="4.9" fill="#707070" stroke="#707070" stroke-width="0.0" text-anchor="middle" textLength="20.09" lengthAdjust="spacingAndGlyphs">(All mice)</text>
<text x="179.45" y="405.80" font-size="5.95" fill="#3a3a3a" stroke="#3a3a3a" stroke-width="0.02" text-anchor="middle" textLength="55.86" lengthAdjust="spacingAndGlyphs">Subepicardial Fibrosis</text>
<text x="177.25" y="411.00" font-size="4.9" fill="#707070" stroke="#707070" stroke-width="0.0" text-anchor="middle" textLength="20.39" lengthAdjust="spacingAndGlyphs">(All mice)</text>
<text x="195.50" y="449.10" font-size="5.95" fill="#3a3a3a" stroke="#3a3a3a" stroke-width="0.02" text-anchor="middle" textLength="39.56" lengthAdjust="spacingAndGlyphs">Subendocardial</text>
<text x="196.05" y="455.80" font-size="5.95" fill="#3a3a3a" stroke="#3a3a3a" stroke-width="0.02" text-anchor="middle" textLength="19.66" lengthAdjust="spacingAndGlyphs">Fibrosis</text>
<text x="195.65" y="462.00" font-size="4.9" fill="#707070" stroke="#707070" stroke-width="0.0" text-anchor="middle" textLength="19.99" lengthAdjust="spacingAndGlyphs">(All mice)</text>
<text x="168.30" y="499.60" font-size="5.95" fill="#3a3a3a" stroke="#3a3a3a" stroke-width="0.02" text-anchor="middle" textLength="37.56" lengthAdjust="spacingAndGlyphs">Global Fibrosis</text>
<text x="167.05" y="505.70" font-size="4.9" fill="#707070" stroke="#707070" stroke-width="0.0" text-anchor="middle" textLength="22.19" lengthAdjust="spacingAndGlyphs">(Old mice)</text>
<text x="117.75" y="516.70" font-size="5.95" fill="#3a3a3a" stroke="#3a3a3a" stroke-width="0.02" text-anchor="middle" textLength="56.06" lengthAdjust="spacingAndGlyphs">Subepicardial Fibrosis</text>
<text x="118.10" y="521.90" font-size="4.9" fill="#707070" stroke="#707070" stroke-width="0.0" text-anchor="middle" textLength="22.29" lengthAdjust="spacingAndGlyphs">(Old mice)</text>
<text x="44.40" y="497.40" font-size="5.95" fill="#3a3a3a" stroke="#3a3a3a" stroke-width="0.02" text-anchor="middle" textLength="59.36" lengthAdjust="spacingAndGlyphs">Subendocardial Fibrosis</text>
<text x="40.80" y="503.00" font-size="4.9" fill="#707070" stroke="#707070" stroke-width="0.0" text-anchor="middle" textLength="23.29" lengthAdjust="spacingAndGlyphs">(Old mice)</text>
<text x="31.50" y="448.70" font-size="5.95" fill="#3a3a3a" stroke="#3a3a3a" stroke-width="0.02" text-anchor="middle" textLength="54.36" lengthAdjust="spacingAndGlyphs">Global Myocardiocyte</text>
<text x="31.65" y="455.00" font-size="5.95" fill="#3a3a3a" stroke="#3a3a3a" stroke-width="0.02" text-anchor="middle" textLength="12.06" lengthAdjust="spacingAndGlyphs">Area</text>
<text x="31.45" y="461.70" font-size="4.9" fill="#707070" stroke="#707070" stroke-width="0.0" text-anchor="middle" textLength="22.79" lengthAdjust="spacingAndGlyphs">(Old mice)</text>
<text x="55.90" y="400.70" font-size="5.95" fill="#3a3a3a" stroke="#3a3a3a" stroke-width="0.02" text-anchor="middle" textLength="38.76" lengthAdjust="spacingAndGlyphs">Subendocardial</text>
<text x="57.00" y="407.20" font-size="5.95" fill="#3a3a3a" stroke="#3a3a3a" stroke-width="0.02" text-anchor="middle" textLength="50.56" lengthAdjust="spacingAndGlyphs">Myocardiocyte Area</text>
<text x="53.15" y="414.00" font-size="4.9" fill="#707070" stroke="#707070" stroke-width="0.0" text-anchor="middle" textLength="22.59" lengthAdjust="spacingAndGlyphs">(Old mice)</text>
<polyline points="361.10,456.63 361.21,455.77 361.31,454.90 361.38,454.03 361.44,453.16 361.48,452.29 361.50,451.42 361.50,450.55 361.48,449.68 361.45,448.81 361.39,447.94 361.32,447.07 361.23,446.20 361.12,445.34 361.00,444.47 360.85,443.61 360.69,442.76 360.51,441.90 360.31,441.05 360.09,440.21 359.85,439.37 359.60,438.54 359.33,437.71 359.04,436.88 358.74,436.07 358.42,435.26 358.08,434.46 357.72,433.66 357.35,432.87 356.96,432.09 356.55,431.32 356.13,430.56 355.69,429.80 355.23,429.06 354.76,428.33 354.28,427.60 353.78,426.89 353.26,426.18 352.73,425.49 352.19,424.81 351.63,424.14 351.06,423.49 350.47,422.84 349.87,422.21 349.25,421.59 348.63,420.98 347.99,420.39 347.34,419.81 346.67,419.25 346.00,418.70 345.31,418.16 344.61,417.64 343.90,417.13 343.18,416.64 342.45,416.16 341.71,415.70 340.96,415.26 340.20,414.83 339.44,414.41 338.66,414.02 337.87,413.64 337.08,413.27 336.28,412.93 335.48,412.60 334.66,412.28 333.84,411.99 333.01,411.71 332.18,411.45 331.34,411.21 330.50,410.98 329.66,410.78 328.80,410.59 327.95,410.42 327.09,410.26 326.23,410.13 325.37,410.01 324.50,409.91 323.63,409.83 322.76,409.77 321.89,409.73 321.02,409.71" fill="none" stroke="#d8a0b4" stroke-width="4.2"/>
<polyline points="321.02,409.71 318.66,409.73 316.30,409.89 313.95,410.19 311.63,410.62 309.33,411.19 307.07,411.88 304.86,412.70 302.69,413.65 300.59,414.72 298.54,415.91 296.57,417.22 294.68,418.63 292.87,420.16 291.15,421.78 289.53,423.50 288.01,425.31 286.60,427.20 285.29,429.17 284.11,431.22 283.04,433.33 282.09,435.49 281.27,437.71 280.58,439.97 280.02,442.26 279.59,444.59 279.29,446.93 279.13,449.29 279.11,451.65 279.22,454.02 279.46,456.37 279.85,458.70 280.36,461.01 281.00,463.28 281.78,465.51 282.68,467.70 283.71,469.83 284.85,471.90 286.11,473.89 287.49,475.82 288.97,477.66 290.56,479.41 292.24,481.07 294.02,482.63 295.88,484.08 297.82,485.43 299.84,486.66 301.92,487.78 304.07,488.77 306.27,489.64 308.51,490.38 310.80,490.99 313.11,491.47 315.45,491.81 317.80,492.02 320.17,492.10 322.53,492.04 324.88,491.84 327.22,491.51 329.54,491.05 331.83,490.45 334.08,489.73 336.28,488.87 338.43,487.89 340.53,486.79 342.55,485.58 344.50,484.24 346.37,482.80 348.16,481.25 349.86,479.60 351.45,477.86 352.95,476.03 354.34,474.12 355.61,472.13 356.77,470.07 357.81,467.94 358.72,465.77 359.51,463.54 360.17,461.27 360.70,458.96 361.10,456.63" fill="none" stroke="#e8c490" stroke-width="4.2"/>
<path d="M321.48,434.60 L321.29,394.41" stroke="#e0709a" stroke-width="0.75"/>
<circle cx="321.29" cy="394.41" r="1.35" fill="#d42a64"/>
<path d="M332.43,439.21 L359.97,410.67" stroke="#e0709a" stroke-width="0.75"/>
<circle cx="359.97" cy="410.67" r="1.35" fill="#d42a64"/>
<path d="M337.20,450.63 L376.80,451.00" stroke="#e0709a" stroke-width="0.75"/>
<circle cx="376.80" cy="451.00" r="1.35" fill="#d42a64"/>
<path d="M331.29,463.02 L355.93,494.75" stroke="#f3b061" stroke-width="0.75"/>
<circle cx="355.93" cy="494.75" r="1.35" fill="#f29a22"/>
<path d="M316.42,465.87 L303.40,504.81" stroke="#f3b061" stroke-width="0.75"/>
<circle cx="303.40" cy="504.81" r="1.35" fill="#f29a22"/>
<path d="M305.88,455.22 L266.21,467.23" stroke="#f3b061" stroke-width="0.75"/>
<circle cx="266.21" cy="467.23" r="1.35" fill="#f29a22"/>
<path d="M308.27,441.17 L274.65,417.61" stroke="#f3b061" stroke-width="0.75"/>
<circle cx="274.65" cy="417.61" r="1.35" fill="#f29a22"/>
<circle cx="321.02" cy="409.71" r="6.75" fill="#8e1f45"/>
<text x="321.02" y="410.51" font-size="2.3" fill="#ecd0da" text-anchor="middle" font-weight="normal" >ahQTL6</text>
<circle cx="349.23" cy="421.56" r="6.75" fill="#8e1f45"/>
<text x="349.23" y="422.36" font-size="2.3" fill="#ecd0da" text-anchor="middle" font-weight="normal" >ahQTL5</text>
<circle cx="361.50" cy="450.97" r="6.75" fill="#8e1f45"/>
<text x="361.50" y="451.77" font-size="2.3" fill="#ecd0da" text-anchor="middle" font-weight="normal" >ahQTL6</text>
<circle cx="346.28" cy="482.87" r="6.75" fill="#b08632"/>
<text x="346.28" y="483.67" font-size="2.3" fill="#f0e0c0" text-anchor="middle" font-weight="normal" >ahQTL4</text>
<circle cx="307.98" cy="490.21" r="6.75" fill="#b08632"/>
<text x="307.98" y="491.01" font-size="2.3" fill="#f0e0c0" text-anchor="middle" font-weight="normal" >ahQTL1</text>
<circle cx="280.86" cy="462.81" r="6.75" fill="#b08632"/>
<text x="280.86" y="463.61" font-size="2.3" fill="#f0e0c0" text-anchor="middle" font-weight="normal" >ahQTL2</text>
<circle cx="287.01" cy="426.63" r="6.75" fill="#b08632"/>
<text x="287.01" y="427.43" font-size="2.3" fill="#f0e0c0" text-anchor="middle" font-weight="normal" >ahQTL4</text>
<circle cx="321.2" cy="450.6" r="16.4" fill="#fff" stroke="#b4aeac" stroke-width="2"/>
<text x="321.2" y="453.60" font-size="8.0" fill="#958f8f" text-anchor="middle" textLength="25.3" lengthAdjust="spacingAndGlyphs">cda-QTL13</text>
<text x="324.10" y="385.00" font-size="5.95" fill="#3a3a3a" stroke="#3a3a3a" stroke-width="0.02" text-anchor="middle" textLength="60.96" lengthAdjust="spacingAndGlyphs">Subendocardial Fibrosis</text>
<text x="320.75" y="390.60" font-size="4.9" fill="#707070" stroke="#707070" stroke-width="0.0" text-anchor="middle" textLength="20.79" lengthAdjust="spacingAndGlyphs">(All mice)</text>
<text x="383.20" y="406.20" font-size="5.95" fill="#3a3a3a" stroke="#3a3a3a" stroke-width="0.02" text-anchor="middle" textLength="38.56" lengthAdjust="spacingAndGlyphs">Global Fibrosis</text>
<text x="381.75" y="412.70" font-size="4.9" fill="#707070" stroke="#707070" stroke-width="0.0" text-anchor="middle" textLength="29.59" lengthAdjust="spacingAndGlyphs">(Young mice)</text>
<text x="400.15" y="446.80" font-size="5.95" fill="#3a3a3a" stroke="#3a3a3a" stroke-width="0.02" text-anchor="middle" textLength="39.66" lengthAdjust="spacingAndGlyphs">Subendocardial</text>
<text x="400.75" y="453.20" font-size="5.95" fill="#3a3a3a" stroke="#3a3a3a" stroke-width="0.02" text-anchor="middle" textLength="19.46" lengthAdjust="spacingAndGlyphs">Fibrosis</text>
<text x="399.70" y="459.90" font-size="4.9" fill="#707070" stroke="#707070" stroke-width="0.0" text-anchor="middle" textLength="29.29" lengthAdjust="spacingAndGlyphs">(Young mice)</text>
<text x="359.35" y="501.10" font-size="5.95" fill="#3a3a3a" stroke="#3a3a3a" stroke-width="0.02" text-anchor="middle" textLength="38.26" lengthAdjust="spacingAndGlyphs">Global Fibrosis</text>
<text x="359.95" y="507.50" font-size="4.9" fill="#707070" stroke="#707070" stroke-width="0.0" text-anchor="middle" textLength="19.79" lengthAdjust="spacingAndGlyphs">(All mice)</text>
<text x="304.65" y="512.00" font-size="5.95" fill="#3a3a3a" stroke="#3a3a3a" stroke-width="0.02" text-anchor="middle" textLength="61.46" lengthAdjust="spacingAndGlyphs">Subendocardial Fibrosis</text>
<text x="301.80" y="516.70" font-size="4.9" fill="#707070" stroke="#707070" stroke-width="0.0" text-anchor="middle" textLength="21.29" lengthAdjust="spacingAndGlyphs">(All mice)</text>
<text x="245.40" y="472.80" font-size="5.95" fill="#3a3a3a" stroke="#3a3a3a" stroke-width="0.02" text-anchor="middle" textLength="37.36" lengthAdjust="spacingAndGlyphs">Global Fibrosis</text>
<text x="244.60" y="479.50" font-size="4.9" fill="#707070" stroke="#707070" stroke-width="0.0" text-anchor="middle" textLength="29.49" lengthAdjust="spacingAndGlyphs">(Young mice)</text>
<text x="258.45" y="411.80" font-size="5.95" fill="#3a3a3a" stroke="#3a3a3a" stroke-width="0.02" text-anchor="middle" textLength="61.06" lengthAdjust="spacingAndGlyphs">Subendocardial Fibrosis</text>
<text x="253.85" y="417.20" font-size="4.9" fill="#707070" stroke="#707070" stroke-width="0.0" text-anchor="middle" textLength="29.79" lengthAdjust="spacingAndGlyphs">(Young mice)</text>
<circle cx="192.2" cy="533.8" r="3.6" fill="#d2275e"/>
<circle cx="192.2" cy="543.4" r="3.6" fill="#f4a030"/>
<text x="198.90" y="535.80" font-size="5.4" fill="#444" text-anchor="start" font-weight="normal" >Doxorubicin</text>
<text x="198.90" y="545.20" font-size="5.4" fill="#444" text-anchor="start" font-weight="normal" >Combined treatment</text>
</svg></body></html>
